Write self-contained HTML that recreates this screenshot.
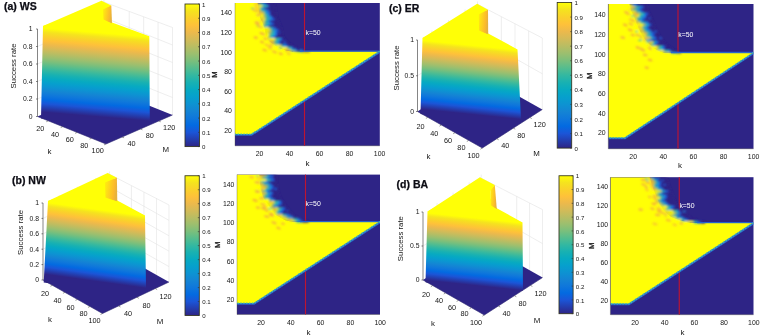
<!DOCTYPE html>
<html><head><meta charset="utf-8"><title>Success rate vs k and M</title>
<style>
html,body{margin:0;padding:0;background:#fff;}
body{width:760px;height:335px;overflow:hidden;}
svg{display:block;font-family:"Liberation Sans",Arial,Helvetica,sans-serif;}
</style></head><body>
<svg width="760" height="335" viewBox="0 0 760 335">
<defs>
<linearGradient id="nwa" x1="0" y1="0" x2="1" y2="0.25"><stop offset="0" stop-color="#fff20c"/><stop offset="0.4" stop-color="#fed51c"/><stop offset="0.8" stop-color="#fbb92c"/><stop offset="1" stop-color="#e6b23e"/></linearGradient>
<linearGradient id="wga" gradientUnits="userSpaceOnUse" x1="49.00" y1="28.50" x2="42.01" y2="112.01"><stop offset="0.0000" stop-color="#ffff06"/><stop offset="0.0500" stop-color="#f5e31e"/><stop offset="0.1000" stop-color="#fad12b"/><stop offset="0.1500" stop-color="#fec13a"/><stop offset="0.2000" stop-color="#ecb94c"/><stop offset="0.2500" stop-color="#d3bb58"/><stop offset="0.3000" stop-color="#b8bd63"/><stop offset="0.3500" stop-color="#9bbf6f"/><stop offset="0.4000" stop-color="#7abf7c"/><stop offset="0.4500" stop-color="#55bd8e"/><stop offset="0.5000" stop-color="#33b8a1"/><stop offset="0.5500" stop-color="#18b1b2"/><stop offset="0.6000" stop-color="#07aac1"/><stop offset="0.6500" stop-color="#06a0cd"/><stop offset="0.7000" stop-color="#0d93d2"/><stop offset="0.7500" stop-color="#1484d4"/><stop offset="0.8000" stop-color="#0f77db"/><stop offset="0.8500" stop-color="#036ae1"/><stop offset="0.9000" stop-color="#1b55d7"/><stop offset="0.9500" stop-color="#243dae"/><stop offset="1.0000" stop-color="#2e2486"/></linearGradient>
<linearGradient id="cba" x1="0" y1="0" x2="0" y2="1"><stop offset="0.0000" stop-color="#ffff06"/><stop offset="0.0500" stop-color="#f5e31e"/><stop offset="0.1000" stop-color="#fad12b"/><stop offset="0.1500" stop-color="#fec13a"/><stop offset="0.2000" stop-color="#ecb94c"/><stop offset="0.2500" stop-color="#d3bb58"/><stop offset="0.3000" stop-color="#b8bd63"/><stop offset="0.3500" stop-color="#9bbf6f"/><stop offset="0.4000" stop-color="#7abf7c"/><stop offset="0.4500" stop-color="#55bd8e"/><stop offset="0.5000" stop-color="#33b8a1"/><stop offset="0.5500" stop-color="#18b1b2"/><stop offset="0.6000" stop-color="#07aac1"/><stop offset="0.6500" stop-color="#06a0cd"/><stop offset="0.7000" stop-color="#0d93d2"/><stop offset="0.7500" stop-color="#1484d4"/><stop offset="0.8000" stop-color="#0f77db"/><stop offset="0.8500" stop-color="#036ae1"/><stop offset="0.9000" stop-color="#1b55d7"/><stop offset="0.9500" stop-color="#243dae"/><stop offset="1.0000" stop-color="#2e2486"/></linearGradient>
<clipPath id="hca"><rect x="235.00" y="3.00" width="144.80" height="142.80"/></clipPath>
<filter id="bla" x="-5%" y="-5%" width="110%" height="110%"><feGaussianBlur stdDeviation="0.8"/></filter>
<linearGradient id="nwc" x1="0" y1="0" x2="1" y2="0.25"><stop offset="0" stop-color="#fff20c"/><stop offset="0.4" stop-color="#fed51c"/><stop offset="0.8" stop-color="#fbb92c"/><stop offset="1" stop-color="#e6b23e"/></linearGradient>
<linearGradient id="wgc" gradientUnits="userSpaceOnUse" x1="429.00" y1="41.00" x2="422.05" y2="109.29"><stop offset="0.0000" stop-color="#ffff06"/><stop offset="0.0500" stop-color="#f5e31e"/><stop offset="0.1000" stop-color="#fad12b"/><stop offset="0.1500" stop-color="#fec13a"/><stop offset="0.2000" stop-color="#ecb94c"/><stop offset="0.2500" stop-color="#d3bb58"/><stop offset="0.3000" stop-color="#b8bd63"/><stop offset="0.3500" stop-color="#9bbf6f"/><stop offset="0.4000" stop-color="#7abf7c"/><stop offset="0.4500" stop-color="#55bd8e"/><stop offset="0.5000" stop-color="#33b8a1"/><stop offset="0.5500" stop-color="#18b1b2"/><stop offset="0.6000" stop-color="#07aac1"/><stop offset="0.6500" stop-color="#06a0cd"/><stop offset="0.7000" stop-color="#0d93d2"/><stop offset="0.7500" stop-color="#1484d4"/><stop offset="0.8000" stop-color="#0f77db"/><stop offset="0.8500" stop-color="#036ae1"/><stop offset="0.9000" stop-color="#1b55d7"/><stop offset="0.9500" stop-color="#243dae"/><stop offset="1.0000" stop-color="#2e2486"/></linearGradient>
<linearGradient id="cbc" x1="0" y1="0" x2="0" y2="1"><stop offset="0.0000" stop-color="#ffff06"/><stop offset="0.0500" stop-color="#f5e31e"/><stop offset="0.1000" stop-color="#fad12b"/><stop offset="0.1500" stop-color="#fec13a"/><stop offset="0.2000" stop-color="#ecb94c"/><stop offset="0.2500" stop-color="#d3bb58"/><stop offset="0.3000" stop-color="#b8bd63"/><stop offset="0.3500" stop-color="#9bbf6f"/><stop offset="0.4000" stop-color="#7abf7c"/><stop offset="0.4500" stop-color="#55bd8e"/><stop offset="0.5000" stop-color="#33b8a1"/><stop offset="0.5500" stop-color="#18b1b2"/><stop offset="0.6000" stop-color="#07aac1"/><stop offset="0.6500" stop-color="#06a0cd"/><stop offset="0.7000" stop-color="#0d93d2"/><stop offset="0.7500" stop-color="#1484d4"/><stop offset="0.8000" stop-color="#0f77db"/><stop offset="0.8500" stop-color="#036ae1"/><stop offset="0.9000" stop-color="#1b55d7"/><stop offset="0.9500" stop-color="#243dae"/><stop offset="1.0000" stop-color="#2e2486"/></linearGradient>
<clipPath id="hcc"><rect x="608.30" y="4.00" width="145.20" height="144.80"/></clipPath>
<filter id="blc" x="-5%" y="-5%" width="110%" height="110%"><feGaussianBlur stdDeviation="0.8"/></filter>
<linearGradient id="nwb" x1="0" y1="0" x2="1" y2="0.25"><stop offset="0" stop-color="#fff20c"/><stop offset="0.4" stop-color="#fed51c"/><stop offset="0.8" stop-color="#fbb92c"/><stop offset="1" stop-color="#e6b23e"/></linearGradient>
<linearGradient id="wgb" gradientUnits="userSpaceOnUse" x1="54.00" y1="203.50" x2="44.29" y2="274.17"><stop offset="0.0000" stop-color="#ffff06"/><stop offset="0.0500" stop-color="#f5e31e"/><stop offset="0.1000" stop-color="#fad12b"/><stop offset="0.1500" stop-color="#fec13a"/><stop offset="0.2000" stop-color="#ecb94c"/><stop offset="0.2500" stop-color="#d3bb58"/><stop offset="0.3000" stop-color="#b8bd63"/><stop offset="0.3500" stop-color="#9bbf6f"/><stop offset="0.4000" stop-color="#7abf7c"/><stop offset="0.4500" stop-color="#55bd8e"/><stop offset="0.5000" stop-color="#33b8a1"/><stop offset="0.5500" stop-color="#18b1b2"/><stop offset="0.6000" stop-color="#07aac1"/><stop offset="0.6500" stop-color="#06a0cd"/><stop offset="0.7000" stop-color="#0d93d2"/><stop offset="0.7500" stop-color="#1484d4"/><stop offset="0.8000" stop-color="#0f77db"/><stop offset="0.8500" stop-color="#036ae1"/><stop offset="0.9000" stop-color="#1b55d7"/><stop offset="0.9500" stop-color="#243dae"/><stop offset="1.0000" stop-color="#2e2486"/></linearGradient>
<linearGradient id="cbb" x1="0" y1="0" x2="0" y2="1"><stop offset="0.0000" stop-color="#ffff06"/><stop offset="0.0500" stop-color="#f5e31e"/><stop offset="0.1000" stop-color="#fad12b"/><stop offset="0.1500" stop-color="#fec13a"/><stop offset="0.2000" stop-color="#ecb94c"/><stop offset="0.2500" stop-color="#d3bb58"/><stop offset="0.3000" stop-color="#b8bd63"/><stop offset="0.3500" stop-color="#9bbf6f"/><stop offset="0.4000" stop-color="#7abf7c"/><stop offset="0.4500" stop-color="#55bd8e"/><stop offset="0.5000" stop-color="#33b8a1"/><stop offset="0.5500" stop-color="#18b1b2"/><stop offset="0.6000" stop-color="#07aac1"/><stop offset="0.6500" stop-color="#06a0cd"/><stop offset="0.7000" stop-color="#0d93d2"/><stop offset="0.7500" stop-color="#1484d4"/><stop offset="0.8000" stop-color="#0f77db"/><stop offset="0.8500" stop-color="#036ae1"/><stop offset="0.9000" stop-color="#1b55d7"/><stop offset="0.9500" stop-color="#243dae"/><stop offset="1.0000" stop-color="#2e2486"/></linearGradient>
<clipPath id="hcb"><rect x="237.00" y="174.60" width="143.00" height="139.90"/></clipPath>
<filter id="blb" x="-5%" y="-5%" width="110%" height="110%"><feGaussianBlur stdDeviation="0.8"/></filter>
<linearGradient id="nwd" x1="0" y1="0" x2="1" y2="0.25"><stop offset="0" stop-color="#fff20c"/><stop offset="0.4" stop-color="#fed51c"/><stop offset="0.8" stop-color="#fbb92c"/><stop offset="1" stop-color="#e6b23e"/></linearGradient>
<linearGradient id="wgd" gradientUnits="userSpaceOnUse" x1="433.00" y1="213.50" x2="425.92" y2="280.25"><stop offset="0.0000" stop-color="#ffff06"/><stop offset="0.0500" stop-color="#f5e31e"/><stop offset="0.1000" stop-color="#fad12b"/><stop offset="0.1500" stop-color="#fec13a"/><stop offset="0.2000" stop-color="#ecb94c"/><stop offset="0.2500" stop-color="#d3bb58"/><stop offset="0.3000" stop-color="#b8bd63"/><stop offset="0.3500" stop-color="#9bbf6f"/><stop offset="0.4000" stop-color="#7abf7c"/><stop offset="0.4500" stop-color="#55bd8e"/><stop offset="0.5000" stop-color="#33b8a1"/><stop offset="0.5500" stop-color="#18b1b2"/><stop offset="0.6000" stop-color="#07aac1"/><stop offset="0.6500" stop-color="#06a0cd"/><stop offset="0.7000" stop-color="#0d93d2"/><stop offset="0.7500" stop-color="#1484d4"/><stop offset="0.8000" stop-color="#0f77db"/><stop offset="0.8500" stop-color="#036ae1"/><stop offset="0.9000" stop-color="#1b55d7"/><stop offset="0.9500" stop-color="#243dae"/><stop offset="1.0000" stop-color="#2e2486"/></linearGradient>
<linearGradient id="cbd" x1="0" y1="0" x2="0" y2="1"><stop offset="0.0000" stop-color="#ffff06"/><stop offset="0.0500" stop-color="#f5e31e"/><stop offset="0.1000" stop-color="#fad12b"/><stop offset="0.1500" stop-color="#fec13a"/><stop offset="0.2000" stop-color="#ecb94c"/><stop offset="0.2500" stop-color="#d3bb58"/><stop offset="0.3000" stop-color="#b8bd63"/><stop offset="0.3500" stop-color="#9bbf6f"/><stop offset="0.4000" stop-color="#7abf7c"/><stop offset="0.4500" stop-color="#55bd8e"/><stop offset="0.5000" stop-color="#33b8a1"/><stop offset="0.5500" stop-color="#18b1b2"/><stop offset="0.6000" stop-color="#07aac1"/><stop offset="0.6500" stop-color="#06a0cd"/><stop offset="0.7000" stop-color="#0d93d2"/><stop offset="0.7500" stop-color="#1484d4"/><stop offset="0.8000" stop-color="#0f77db"/><stop offset="0.8500" stop-color="#036ae1"/><stop offset="0.9000" stop-color="#1b55d7"/><stop offset="0.9500" stop-color="#243dae"/><stop offset="1.0000" stop-color="#2e2486"/></linearGradient>
<clipPath id="hcd"><rect x="610.40" y="177.20" width="143.10" height="137.50"/></clipPath>
<filter id="bld" x="-5%" y="-5%" width="110%" height="110%"><feGaussianBlur stdDeviation="0.8"/></filter>
</defs>
<rect x="0" y="0" width="760" height="335" fill="#ffffff"/>
<g stroke="#e2e2e2" stroke-width="0.6" fill="none">
<path d="M101.40,1.10 L172.50,27.50 L172.50,115.00"/>
<path d="M104.00,0.00 L104.00,87.50"/>
<path d="M37.50,99.00 L104.00,70.00 L172.50,97.50"/>
<path d="M37.50,81.50 L104.00,52.50 L172.50,80.00"/>
<path d="M37.50,64.00 L104.00,35.00 L172.50,62.50"/>
<path d="M37.50,46.50 L104.00,17.50 L172.50,45.00"/>
<path d="M129.24,97.63 L129.24,11.44"/>
<path d="M143.66,103.42 L143.66,16.79"/>
<path d="M158.08,109.21 L158.08,22.15"/>
<path d="M53.55,109.50 L53.55,22.00"/>
<path d="M71.90,101.50 L71.90,14.00"/>
<path d="M90.24,93.50 L90.24,6.00"/>
</g>
<polygon points="37.50,116.50 106.00,144.00 172.50,115.00 104.00,87.50" fill="#2e2486"/>
<polygon points="43.00,26.00 101.40,6.80 112.00,22.60 149.30,36.30 149.80,121.00 69.00,119.00 41.00,118.41" fill="url(#wga)"/>
<polygon points="103.00,7.50 111.30,5.40 112.00,23.60 103.00,20.60" fill="url(#nwa)"/>
<polygon points="43.00,26.00 101.40,0.80 111.30,5.40 103.00,9.50 103.50,19.60 112.00,23.60 149.30,36.90 49.00,28.50" fill="#ffff06"/>
<g stroke="#333" stroke-width="0.6" fill="none">
<path d="M37.50,116.50 L37.50,29.00"/>
<path d="M37.50,116.50 L106.00,144.00 L172.50,115.00" stroke="#2a2470"/>
<path d="M36.00,116.50 L37.50,116.50"/>
<path d="M36.00,99.00 L37.50,99.00"/>
<path d="M36.00,81.50 L37.50,81.50"/>
<path d="M36.00,64.00 L37.50,64.00"/>
<path d="M36.00,46.50 L37.50,46.50"/>
<path d="M36.00,29.00 L37.50,29.00"/>
<path d="M48.32,120.84 L46.30,121.72" stroke="#555"/>
<path d="M62.74,126.63 L60.72,127.51" stroke="#555"/>
<path d="M77.16,132.42 L75.14,133.30" stroke="#555"/>
<path d="M91.58,138.21 L89.56,139.09" stroke="#555"/>
<path d="M106.00,144.00 L103.98,144.88" stroke="#555"/>
<path d="M122.05,137.00 L124.09,137.82" stroke="#555"/>
<path d="M140.40,129.00 L142.44,129.82" stroke="#555"/>
<path d="M158.74,121.00 L160.78,121.82" stroke="#555"/>
</g>
<text x="32.50" y="118.95" font-size="6.8" text-anchor="end" font-weight="normal" fill="#161616">0</text>
<text x="32.50" y="101.45" font-size="6.8" text-anchor="end" font-weight="normal" fill="#161616">0.2</text>
<text x="32.50" y="83.95" font-size="6.8" text-anchor="end" font-weight="normal" fill="#161616">0.4</text>
<text x="32.50" y="66.45" font-size="6.8" text-anchor="end" font-weight="normal" fill="#161616">0.6</text>
<text x="32.50" y="48.95" font-size="6.8" text-anchor="end" font-weight="normal" fill="#161616">0.8</text>
<text x="32.50" y="31.45" font-size="6.8" text-anchor="end" font-weight="normal" fill="#161616">1</text>
<text x="40.30" y="131.03" font-size="7.3" text-anchor="middle" font-weight="normal" fill="#161616">20</text>
<text x="55.10" y="136.83" font-size="7.3" text-anchor="middle" font-weight="normal" fill="#161616">40</text>
<text x="69.80" y="142.43" font-size="7.3" text-anchor="middle" font-weight="normal" fill="#161616">60</text>
<text x="84.30" y="147.83" font-size="7.3" text-anchor="middle" font-weight="normal" fill="#161616">80</text>
<text x="97.70" y="153.43" font-size="7.3" text-anchor="middle" font-weight="normal" fill="#161616">100</text>
<text x="131.50" y="145.93" font-size="7.3" text-anchor="middle" font-weight="normal" fill="#161616">40</text>
<text x="149.70" y="137.53" font-size="7.3" text-anchor="middle" font-weight="normal" fill="#161616">80</text>
<text x="169.20" y="129.93" font-size="7.3" text-anchor="middle" font-weight="normal" fill="#161616">120</text>
<text x="49.60" y="153.93" font-size="7.9" text-anchor="middle" font-weight="normal" fill="#161616">k</text>
<text x="165.80" y="151.93" font-size="7.9" text-anchor="middle" font-weight="normal" fill="#161616">M</text>
<text x="15.60" y="66.00" font-size="7.8" text-anchor="middle" font-weight="normal" fill="#161616" transform="rotate(-90 15.60 66.00)">Success rate</text>
<text x="4.00" y="9.60" font-size="10.5" text-anchor="start" font-weight="bold" fill="#0c0c14" stroke="#0c0c14" stroke-width="0.25">(a) WS</text>
<rect x="185.00" y="4.00" width="14.50" height="142.60" fill="url(#cba)" stroke="#33331c" stroke-width="0.85"/>
<line x1="198.00" y1="4.00" x2="199.50" y2="4.00" stroke="#333" stroke-width="0.6"/>
<text x="202.00" y="6.60" font-size="6.1" text-anchor="start" font-weight="normal" fill="#161616">1</text>
<line x1="198.00" y1="18.26" x2="199.50" y2="18.26" stroke="#333" stroke-width="0.6"/>
<text x="202.00" y="20.86" font-size="6.1" text-anchor="start" font-weight="normal" fill="#161616">0.9</text>
<line x1="198.00" y1="32.52" x2="199.50" y2="32.52" stroke="#333" stroke-width="0.6"/>
<text x="202.00" y="35.12" font-size="6.1" text-anchor="start" font-weight="normal" fill="#161616">0.8</text>
<line x1="198.00" y1="46.78" x2="199.50" y2="46.78" stroke="#333" stroke-width="0.6"/>
<text x="202.00" y="49.38" font-size="6.1" text-anchor="start" font-weight="normal" fill="#161616">0.7</text>
<line x1="198.00" y1="61.04" x2="199.50" y2="61.04" stroke="#333" stroke-width="0.6"/>
<text x="202.00" y="63.64" font-size="6.1" text-anchor="start" font-weight="normal" fill="#161616">0.6</text>
<line x1="198.00" y1="75.30" x2="199.50" y2="75.30" stroke="#333" stroke-width="0.6"/>
<text x="202.00" y="77.90" font-size="6.1" text-anchor="start" font-weight="normal" fill="#161616">0.5</text>
<line x1="198.00" y1="89.56" x2="199.50" y2="89.56" stroke="#333" stroke-width="0.6"/>
<text x="202.00" y="92.16" font-size="6.1" text-anchor="start" font-weight="normal" fill="#161616">0.4</text>
<line x1="198.00" y1="103.82" x2="199.50" y2="103.82" stroke="#333" stroke-width="0.6"/>
<text x="202.00" y="106.42" font-size="6.1" text-anchor="start" font-weight="normal" fill="#161616">0.3</text>
<line x1="198.00" y1="118.08" x2="199.50" y2="118.08" stroke="#333" stroke-width="0.6"/>
<text x="202.00" y="120.68" font-size="6.1" text-anchor="start" font-weight="normal" fill="#161616">0.2</text>
<line x1="198.00" y1="132.34" x2="199.50" y2="132.34" stroke="#333" stroke-width="0.6"/>
<text x="202.00" y="134.94" font-size="6.1" text-anchor="start" font-weight="normal" fill="#161616">0.1</text>
<line x1="198.00" y1="146.60" x2="199.50" y2="146.60" stroke="#333" stroke-width="0.6"/>
<text x="202.00" y="149.20" font-size="6.1" text-anchor="start" font-weight="normal" fill="#161616">0</text>
<rect x="235.00" y="3.00" width="144.80" height="142.80" fill="#2e2486"/>
<line x1="304.50" y1="3.00" x2="304.50" y2="145.80" stroke="#bd1431" stroke-width="1.15"/>
<g clip-path="url(#hca)">
<polygon points="235.00,3.00 257.50,3.00 259.00,12.00 260.20,18.00 263.00,24.00 264.60,28.00 265.80,36.00 268.00,40.00 271.80,43.30 276.00,46.00 280.80,48.50 286.00,50.60 293.00,51.80 293.00,51.50 379.80,51.50 251.50,134.50 235.00,134.50" fill="#ffff06"/>
<g filter="url(#bla)">
<rect x="253.68" y="2.90" width="0.82" height="2.40" fill="#ffff06"/>
<rect x="254.50" y="2.90" width="3.82" height="2.40" fill="#f3bd36"/>
<rect x="258.23" y="2.90" width="1.35" height="2.40" fill="#d4d038"/>
<rect x="259.48" y="2.90" width="1.39" height="2.40" fill="#63c487"/>
<rect x="260.77" y="2.90" width="2.41" height="2.40" fill="#2ab8b8"/>
<rect x="263.08" y="2.90" width="2.29" height="2.40" fill="#1f93e2"/>
<rect x="265.27" y="2.90" width="1.07" height="2.40" fill="#1a62e0"/>
<rect x="266.24" y="2.90" width="0.52" height="2.40" fill="#2b3fb0"/>
<rect x="266.66" y="2.90" width="8.02" height="2.40" fill="#2e2486"/>
<rect x="254.05" y="5.10" width="4.76" height="2.40" fill="#ffff06"/>
<rect x="258.81" y="5.10" width="1.41" height="2.40" fill="#ffff06"/>
<rect x="260.12" y="5.10" width="2.17" height="2.40" fill="#ffff06"/>
<rect x="262.19" y="5.10" width="2.10" height="2.40" fill="#63c487"/>
<rect x="264.19" y="5.10" width="2.93" height="2.40" fill="#2ab8b8"/>
<rect x="267.02" y="5.10" width="0.95" height="2.40" fill="#1f93e2"/>
<rect x="267.88" y="5.10" width="0.94" height="2.40" fill="#1a62e0"/>
<rect x="268.72" y="5.10" width="0.98" height="2.40" fill="#2b3fb0"/>
<rect x="269.60" y="5.10" width="5.45" height="2.40" fill="#2e2486"/>
<rect x="254.42" y="7.30" width="1.79" height="2.40" fill="#ffff06"/>
<rect x="256.21" y="7.30" width="2.61" height="2.40" fill="#ffff06"/>
<rect x="258.72" y="7.30" width="1.29" height="2.40" fill="#ffff06"/>
<rect x="259.91" y="7.30" width="1.46" height="2.40" fill="#63c487"/>
<rect x="261.27" y="7.30" width="1.54" height="2.40" fill="#2ab8b8"/>
<rect x="262.70" y="7.30" width="1.31" height="2.40" fill="#1f93e2"/>
<rect x="263.91" y="7.30" width="1.29" height="2.40" fill="#1a62e0"/>
<rect x="265.10" y="7.30" width="0.90" height="2.40" fill="#2b3fb0"/>
<rect x="265.90" y="7.30" width="9.52" height="2.40" fill="#2e2486"/>
<ellipse cx="252.62" cy="8.50" rx="1.76" ry="0.8" fill="#58c090"/>
<rect x="254.78" y="9.50" width="0.67" height="2.40" fill="#ffff06"/>
<rect x="255.45" y="9.50" width="4.24" height="2.40" fill="#f3bd36"/>
<rect x="259.59" y="9.50" width="1.11" height="2.40" fill="#ffff06"/>
<rect x="260.61" y="9.50" width="1.78" height="2.40" fill="#63c487"/>
<rect x="262.29" y="9.50" width="2.54" height="2.40" fill="#2ab8b8"/>
<rect x="264.72" y="9.50" width="2.55" height="2.40" fill="#1f93e2"/>
<rect x="267.17" y="9.50" width="1.64" height="2.40" fill="#1a62e0"/>
<rect x="268.72" y="9.50" width="1.23" height="2.40" fill="#2b3fb0"/>
<rect x="269.85" y="9.50" width="5.94" height="2.40" fill="#2e2486"/>
<rect x="255.18" y="11.70" width="3.39" height="2.40" fill="#ffff06"/>
<rect x="258.57" y="11.70" width="3.92" height="2.40" fill="#f3bd36"/>
<rect x="262.39" y="11.70" width="1.79" height="2.40" fill="#d4d038"/>
<rect x="264.08" y="11.70" width="0.80" height="2.40" fill="#63c487"/>
<rect x="264.78" y="11.70" width="1.56" height="2.40" fill="#2ab8b8"/>
<rect x="266.24" y="11.70" width="2.30" height="2.40" fill="#1f93e2"/>
<rect x="268.44" y="11.70" width="1.63" height="2.40" fill="#1a62e0"/>
<rect x="269.97" y="11.70" width="0.65" height="2.40" fill="#2b3fb0"/>
<rect x="270.52" y="11.70" width="5.66" height="2.40" fill="#2e2486"/>
<rect x="255.62" y="13.90" width="4.86" height="2.40" fill="#ffff06"/>
<rect x="260.48" y="13.90" width="2.47" height="2.40" fill="#ffff06"/>
<rect x="262.85" y="13.90" width="1.79" height="2.40" fill="#d4d038"/>
<rect x="264.55" y="13.90" width="1.49" height="2.40" fill="#63c487"/>
<rect x="265.94" y="13.90" width="1.87" height="2.40" fill="#2ab8b8"/>
<rect x="267.72" y="13.90" width="1.76" height="2.40" fill="#1f93e2"/>
<rect x="269.38" y="13.90" width="0.95" height="2.40" fill="#1a62e0"/>
<rect x="270.23" y="13.90" width="0.54" height="2.40" fill="#2b3fb0"/>
<rect x="270.67" y="13.90" width="5.95" height="2.40" fill="#2e2486"/>
<rect x="256.06" y="16.10" width="4.69" height="2.40" fill="#ffff06"/>
<rect x="260.75" y="16.10" width="2.53" height="2.40" fill="#ffff06"/>
<rect x="263.17" y="16.10" width="1.78" height="2.40" fill="#d4d038"/>
<rect x="264.86" y="16.10" width="1.85" height="2.40" fill="#63c487"/>
<rect x="266.61" y="16.10" width="2.18" height="2.40" fill="#2ab8b8"/>
<rect x="268.69" y="16.10" width="2.41" height="2.40" fill="#1f93e2"/>
<rect x="271.00" y="16.10" width="1.31" height="2.40" fill="#1a62e0"/>
<rect x="272.21" y="16.10" width="0.95" height="2.40" fill="#2b3fb0"/>
<rect x="273.06" y="16.10" width="4.00" height="2.40" fill="#2e2486"/>
<rect x="256.90" y="18.30" width="3.62" height="2.40" fill="#ffff06"/>
<rect x="260.52" y="18.30" width="2.17" height="2.40" fill="#f3bd36"/>
<rect x="262.59" y="18.30" width="2.58" height="2.40" fill="#ffff06"/>
<rect x="265.07" y="18.30" width="1.87" height="2.40" fill="#63c487"/>
<rect x="266.84" y="18.30" width="2.76" height="2.40" fill="#2ab8b8"/>
<rect x="269.51" y="18.30" width="2.46" height="2.40" fill="#1f93e2"/>
<rect x="271.87" y="18.30" width="2.20" height="2.40" fill="#1a62e0"/>
<rect x="273.97" y="18.30" width="1.21" height="2.40" fill="#2b3fb0"/>
<rect x="275.08" y="18.30" width="2.82" height="2.40" fill="#2e2486"/>
<rect x="257.93" y="20.50" width="3.04" height="2.40" fill="#ffff06"/>
<rect x="260.97" y="20.50" width="1.56" height="2.40" fill="#f3bd36"/>
<rect x="262.43" y="20.50" width="1.90" height="2.40" fill="#ffff06"/>
<rect x="264.23" y="20.50" width="1.47" height="2.40" fill="#63c487"/>
<rect x="265.61" y="20.50" width="2.06" height="2.40" fill="#2ab8b8"/>
<rect x="267.57" y="20.50" width="1.53" height="2.40" fill="#1f93e2"/>
<rect x="269.00" y="20.50" width="1.51" height="2.40" fill="#1a62e0"/>
<rect x="270.41" y="20.50" width="0.97" height="2.40" fill="#2b3fb0"/>
<rect x="271.28" y="20.50" width="7.65" height="2.40" fill="#2e2486"/>
<rect x="258.95" y="22.70" width="3.11" height="2.40" fill="#ffff06"/>
<rect x="262.07" y="22.70" width="1.48" height="2.40" fill="#ffff06"/>
<rect x="263.45" y="22.70" width="1.21" height="2.40" fill="#d4d038"/>
<rect x="264.56" y="22.70" width="1.98" height="2.40" fill="#63c487"/>
<rect x="266.44" y="22.70" width="2.72" height="2.40" fill="#2ab8b8"/>
<rect x="269.06" y="22.70" width="2.30" height="2.40" fill="#1f93e2"/>
<rect x="271.26" y="22.70" width="2.34" height="2.40" fill="#1a62e0"/>
<rect x="273.50" y="22.70" width="0.72" height="2.40" fill="#2b3fb0"/>
<rect x="274.12" y="22.70" width="5.83" height="2.40" fill="#2e2486"/>
<rect x="259.84" y="24.90" width="0.29" height="2.40" fill="#ffff06"/>
<rect x="260.13" y="24.90" width="1.45" height="2.40" fill="#ffff06"/>
<rect x="261.47" y="24.90" width="2.23" height="2.40" fill="#ffff06"/>
<rect x="263.60" y="24.90" width="0.91" height="2.40" fill="#63c487"/>
<rect x="264.41" y="24.90" width="2.36" height="2.40" fill="#2ab8b8"/>
<rect x="266.67" y="24.90" width="1.51" height="2.40" fill="#1f93e2"/>
<rect x="268.07" y="24.90" width="1.02" height="2.40" fill="#1a62e0"/>
<rect x="269.00" y="24.90" width="0.64" height="2.40" fill="#2b3fb0"/>
<rect x="269.54" y="24.90" width="11.30" height="2.40" fill="#2e2486"/>
<ellipse cx="257.94" cy="26.10" rx="1.91" ry="0.8" fill="#a8cc58"/>
<rect x="260.65" y="27.10" width="4.15" height="2.40" fill="#ffff06"/>
<rect x="264.79" y="27.10" width="2.82" height="2.40" fill="#ffff06"/>
<rect x="267.51" y="27.10" width="1.45" height="2.40" fill="#ffff06"/>
<rect x="268.86" y="27.10" width="1.89" height="2.40" fill="#63c487"/>
<rect x="270.65" y="27.10" width="1.59" height="2.40" fill="#2ab8b8"/>
<rect x="272.14" y="27.10" width="1.35" height="2.40" fill="#1f93e2"/>
<rect x="273.38" y="27.10" width="2.19" height="2.40" fill="#1a62e0"/>
<rect x="275.47" y="27.10" width="1.36" height="2.40" fill="#2b3fb0"/>
<rect x="276.73" y="27.10" width="4.92" height="2.40" fill="#2e2486"/>
<rect x="260.98" y="29.30" width="7.38" height="2.40" fill="#ffff06"/>
<rect x="268.35" y="29.30" width="2.04" height="2.40" fill="#ffff06"/>
<rect x="270.30" y="29.30" width="0.96" height="2.40" fill="#d4d038"/>
<rect x="271.16" y="29.30" width="1.39" height="2.40" fill="#63c487"/>
<rect x="272.45" y="29.30" width="2.11" height="2.40" fill="#2ab8b8"/>
<rect x="274.46" y="29.30" width="1.65" height="2.40" fill="#1f93e2"/>
<rect x="276.01" y="29.30" width="2.36" height="2.40" fill="#1a62e0"/>
<rect x="278.27" y="29.30" width="1.36" height="2.40" fill="#2b3fb0"/>
<rect x="279.53" y="29.30" width="2.44" height="2.40" fill="#2e2486"/>
<rect x="261.31" y="31.50" width="4.36" height="2.40" fill="#ffff06"/>
<rect x="265.66" y="31.50" width="2.90" height="2.40" fill="#ffff06"/>
<rect x="268.46" y="31.50" width="2.09" height="2.40" fill="#d4d038"/>
<rect x="270.45" y="31.50" width="1.69" height="2.40" fill="#63c487"/>
<rect x="272.04" y="31.50" width="1.94" height="2.40" fill="#2ab8b8"/>
<rect x="273.89" y="31.50" width="2.20" height="2.40" fill="#1f93e2"/>
<rect x="275.98" y="31.50" width="1.12" height="2.40" fill="#1a62e0"/>
<rect x="277.00" y="31.50" width="0.69" height="2.40" fill="#2b3fb0"/>
<rect x="277.59" y="31.50" width="4.71" height="2.40" fill="#2e2486"/>
<ellipse cx="279.27" cy="32.70" rx="1.28" ry="0.8" fill="#2450c8"/>
<rect x="261.63" y="33.70" width="3.19" height="2.40" fill="#ffff06"/>
<rect x="264.83" y="33.70" width="2.12" height="2.40" fill="#ffff06"/>
<rect x="266.85" y="33.70" width="2.45" height="2.40" fill="#ffff06"/>
<rect x="269.19" y="33.70" width="1.92" height="2.40" fill="#63c487"/>
<rect x="271.02" y="33.70" width="3.06" height="2.40" fill="#2ab8b8"/>
<rect x="273.98" y="33.70" width="1.90" height="2.40" fill="#1f93e2"/>
<rect x="275.78" y="33.70" width="1.20" height="2.40" fill="#1a62e0"/>
<rect x="276.88" y="33.70" width="1.26" height="2.40" fill="#2b3fb0"/>
<rect x="278.05" y="33.70" width="4.59" height="2.40" fill="#2e2486"/>
<rect x="262.41" y="35.90" width="3.54" height="2.40" fill="#ffff06"/>
<rect x="265.95" y="35.90" width="2.48" height="2.40" fill="#ffff06"/>
<rect x="268.33" y="35.90" width="1.26" height="2.40" fill="#d4d038"/>
<rect x="269.49" y="35.90" width="1.37" height="2.40" fill="#63c487"/>
<rect x="270.76" y="35.90" width="1.46" height="2.40" fill="#2ab8b8"/>
<rect x="272.12" y="35.90" width="1.08" height="2.40" fill="#1f93e2"/>
<rect x="273.10" y="35.90" width="2.07" height="2.40" fill="#1a62e0"/>
<rect x="275.07" y="35.90" width="0.76" height="2.40" fill="#2b3fb0"/>
<rect x="275.73" y="35.90" width="7.67" height="2.40" fill="#2e2486"/>
<rect x="263.62" y="38.10" width="6.41" height="2.40" fill="#ffff06"/>
<rect x="270.02" y="38.10" width="3.97" height="2.40" fill="#ffff06"/>
<rect x="273.90" y="38.10" width="1.25" height="2.40" fill="#ffff06"/>
<rect x="275.05" y="38.10" width="2.16" height="2.40" fill="#63c487"/>
<rect x="277.11" y="38.10" width="2.69" height="2.40" fill="#2ab8b8"/>
<rect x="279.70" y="38.10" width="1.50" height="2.40" fill="#1f93e2"/>
<rect x="281.09" y="38.10" width="1.27" height="2.40" fill="#1a62e0"/>
<rect x="282.27" y="38.10" width="1.09" height="2.40" fill="#2b3fb0"/>
<rect x="283.26" y="38.10" width="1.35" height="2.40" fill="#2e2486"/>
<rect x="265.73" y="40.30" width="3.26" height="2.40" fill="#ffff06"/>
<rect x="268.98" y="40.30" width="3.92" height="2.40" fill="#f3bd36"/>
<rect x="272.81" y="40.30" width="1.75" height="2.40" fill="#d4d038"/>
<rect x="274.46" y="40.30" width="1.09" height="2.40" fill="#63c487"/>
<rect x="275.44" y="40.30" width="2.57" height="2.40" fill="#2ab8b8"/>
<rect x="277.91" y="40.30" width="1.05" height="2.40" fill="#1f93e2"/>
<rect x="278.86" y="40.30" width="1.20" height="2.40" fill="#1a62e0"/>
<rect x="279.96" y="40.30" width="1.30" height="2.40" fill="#2b3fb0"/>
<rect x="281.16" y="40.30" width="5.57" height="2.40" fill="#2e2486"/>
<ellipse cx="284.56" cy="41.50" rx="1.80" ry="0.8" fill="#2450c8"/>
<rect x="268.42" y="42.50" width="2.28" height="2.40" fill="#ffff06"/>
<rect x="270.71" y="42.50" width="2.23" height="2.40" fill="#f3bd36"/>
<rect x="272.84" y="42.50" width="1.96" height="2.40" fill="#d4d038"/>
<rect x="274.70" y="42.50" width="2.02" height="2.40" fill="#63c487"/>
<rect x="276.62" y="42.50" width="1.33" height="2.40" fill="#2ab8b8"/>
<rect x="277.85" y="42.50" width="1.87" height="2.40" fill="#1f93e2"/>
<rect x="279.62" y="42.50" width="1.08" height="2.40" fill="#1a62e0"/>
<rect x="280.61" y="42.50" width="0.53" height="2.40" fill="#2b3fb0"/>
<rect x="281.04" y="42.50" width="8.38" height="2.40" fill="#2e2486"/>
<ellipse cx="284.71" cy="43.70" rx="1.99" ry="0.8" fill="#1a62e0"/>
<rect x="271.84" y="44.70" width="4.08" height="2.40" fill="#ffff06"/>
<rect x="275.92" y="44.70" width="3.64" height="2.40" fill="#ffff06"/>
<rect x="279.46" y="44.70" width="1.90" height="2.40" fill="#ffff06"/>
<rect x="281.27" y="44.70" width="0.87" height="2.40" fill="#63c487"/>
<rect x="282.03" y="44.70" width="1.61" height="2.40" fill="#2ab8b8"/>
<rect x="283.54" y="44.70" width="2.47" height="2.40" fill="#1f93e2"/>
<rect x="285.91" y="44.70" width="1.89" height="2.40" fill="#1a62e0"/>
<rect x="287.70" y="44.70" width="1.31" height="2.40" fill="#2b3fb0"/>
<rect x="288.92" y="44.70" width="3.93" height="2.40" fill="#2e2486"/>
<rect x="276.03" y="46.90" width="5.93" height="2.40" fill="#ffff06"/>
<rect x="281.96" y="46.90" width="3.77" height="2.40" fill="#ffff06"/>
<rect x="285.62" y="46.90" width="2.08" height="2.40" fill="#ffff06"/>
<rect x="287.60" y="46.90" width="0.91" height="2.40" fill="#63c487"/>
<rect x="288.42" y="46.90" width="2.90" height="2.40" fill="#2ab8b8"/>
<rect x="291.22" y="46.90" width="0.97" height="2.40" fill="#1f93e2"/>
<rect x="292.09" y="46.90" width="1.32" height="2.40" fill="#1a62e0"/>
<rect x="293.31" y="46.90" width="1.37" height="2.40" fill="#2b3fb0"/>
<rect x="294.58" y="46.90" width="2.45" height="2.40" fill="#2e2486"/>
<ellipse cx="280.04" cy="48.10" rx="1.44" ry="0.8" fill="#58c090"/>
<rect x="281.26" y="49.10" width="3.80" height="2.40" fill="#ffff06"/>
<rect x="285.06" y="49.10" width="4.16" height="2.40" fill="#f3bd36"/>
<rect x="289.12" y="49.10" width="1.86" height="2.40" fill="#d4d038"/>
<rect x="290.88" y="49.10" width="1.54" height="2.40" fill="#63c487"/>
<rect x="292.31" y="49.10" width="2.54" height="2.40" fill="#2ab8b8"/>
<rect x="294.75" y="49.10" width="1.45" height="2.40" fill="#1f93e2"/>
<rect x="296.10" y="49.10" width="1.27" height="2.40" fill="#1a62e0"/>
<rect x="297.27" y="49.10" width="0.78" height="2.40" fill="#2b3fb0"/>
<rect x="297.95" y="49.10" width="4.31" height="2.40" fill="#2e2486"/>
<ellipse cx="301.42" cy="50.30" rx="2.13" ry="0.8" fill="#1f86e0"/>
<rect x="288.71" y="51.30" width="3.28" height="0.90" fill="#ffff06"/>
<rect x="291.99" y="51.30" width="2.30" height="0.90" fill="#ffff06"/>
<rect x="294.18" y="51.30" width="2.51" height="0.90" fill="#d4d038"/>
<rect x="296.59" y="51.30" width="2.14" height="0.90" fill="#63c487"/>
<rect x="298.63" y="51.30" width="1.28" height="0.90" fill="#2ab8b8"/>
<rect x="299.81" y="51.30" width="1.28" height="0.90" fill="#1f93e2"/>
<rect x="300.99" y="51.30" width="1.99" height="0.90" fill="#1a62e0"/>
<rect x="302.88" y="51.30" width="1.36" height="0.90" fill="#2b3fb0"/>
<rect x="304.14" y="51.30" width="5.57" height="0.90" fill="#2e2486"/>
<ellipse cx="265.50" cy="38.76" rx="2.17" ry="1.00" fill="#f4a93c" transform="rotate(14 265.50 38.76)"/>
<ellipse cx="257.19" cy="23.84" rx="2.98" ry="1.00" fill="#f6b43a" transform="rotate(26 257.19 23.84)"/>
<ellipse cx="254.73" cy="10.48" rx="2.93" ry="1.00" fill="#f8c230" transform="rotate(26 254.73 10.48)"/>
<ellipse cx="288.72" cy="53.85" rx="2.10" ry="1.00" fill="#f8c230" transform="rotate(8 288.72 53.85)"/>
<ellipse cx="261.29" cy="32.94" rx="2.09" ry="1.00" fill="#f6b43a" transform="rotate(8 261.29 32.94)"/>
<ellipse cx="269.99" cy="46.01" rx="2.68" ry="1.00" fill="#f6b43a" transform="rotate(8 269.99 46.01)"/>
<ellipse cx="256.60" cy="7.20" rx="2.26" ry="1.05" fill="#f6b43a" transform="rotate(16 256.60 7.20)"/>
<ellipse cx="258.40" cy="15.20" rx="2.42" ry="1.05" fill="#f2b040" transform="rotate(10 258.40 15.20)"/>
<ellipse cx="257.50" cy="22.40" rx="2.45" ry="1.05" fill="#f6b43a" transform="rotate(16 257.50 22.40)"/>
<ellipse cx="260.20" cy="26.90" rx="2.46" ry="1.05" fill="#f6b43a" transform="rotate(22 260.20 26.90)"/>
<ellipse cx="255.70" cy="37.60" rx="2.16" ry="1.05" fill="#f4a93c" transform="rotate(10 255.70 37.60)"/>
<ellipse cx="262.90" cy="34.00" rx="2.74" ry="1.05" fill="#f4a93c" transform="rotate(16 262.90 34.00)"/>
<ellipse cx="266.50" cy="44.80" rx="2.10" ry="1.05" fill="#f8c230" transform="rotate(22 266.50 44.80)"/>
<ellipse cx="270.00" cy="48.30" rx="2.11" ry="1.05" fill="#f8c230" transform="rotate(10 270.00 48.30)"/>
<ellipse cx="264.70" cy="50.10" rx="2.49" ry="1.05" fill="#f4a93c" transform="rotate(22 264.70 50.10)"/>
<ellipse cx="274.50" cy="51.90" rx="2.70" ry="1.05" fill="#f6b43a" transform="rotate(22 274.50 51.90)"/>
<ellipse cx="280.80" cy="53.70" rx="2.16" ry="1.05" fill="#f4a93c" transform="rotate(16 280.80 53.70)"/>
<ellipse cx="262.00" cy="42.00" rx="2.04" ry="1.05" fill="#f4a93c" transform="rotate(22 262.00 42.00)"/>
</g>
<path d="M300.00,51.20 L379.80,51.20" fill="none" stroke="#2468d8" stroke-width="1.3" opacity="0.9"/>
<path d="M379.80,51.90 L251.50,134.90 L235.00,134.90" fill="none" stroke="#2a6fd6" stroke-width="1.9" opacity="0.9"/>
<path d="M379.80,51.30 L251.50,134.30 L235.00,134.30" fill="none" stroke="#3cc0b0" stroke-width="1.5" stroke-dasharray="1.4 1.5" opacity="0.95"/>
</g>
<path d="M235.00,3.00 L235.00,145.80 L379.80,145.80" fill="none" stroke="#4a4a3a" stroke-width="0.5" opacity="0.7"/>
<text x="231.90" y="15.48" font-size="6.9" text-anchor="end" font-weight="normal" fill="#161616">140</text>
<text x="231.90" y="35.08" font-size="6.9" text-anchor="end" font-weight="normal" fill="#161616">120</text>
<text x="231.90" y="54.68" font-size="6.9" text-anchor="end" font-weight="normal" fill="#161616">100</text>
<text x="231.90" y="74.28" font-size="6.9" text-anchor="end" font-weight="normal" fill="#161616">80</text>
<text x="231.90" y="93.88" font-size="6.9" text-anchor="end" font-weight="normal" fill="#161616">60</text>
<text x="231.90" y="113.48" font-size="6.9" text-anchor="end" font-weight="normal" fill="#161616">40</text>
<text x="231.90" y="133.08" font-size="6.9" text-anchor="end" font-weight="normal" fill="#161616">20</text>
<text x="259.60" y="155.90" font-size="6.9" text-anchor="middle" font-weight="normal" fill="#161616">20</text>
<text x="289.60" y="155.90" font-size="6.9" text-anchor="middle" font-weight="normal" fill="#161616">40</text>
<text x="319.60" y="155.90" font-size="6.9" text-anchor="middle" font-weight="normal" fill="#161616">60</text>
<text x="349.60" y="155.90" font-size="6.9" text-anchor="middle" font-weight="normal" fill="#161616">80</text>
<text x="379.60" y="155.90" font-size="6.9" text-anchor="middle" font-weight="normal" fill="#161616">100</text>
<text x="305.50" y="35.00" font-size="6.9" text-anchor="start" font-weight="normal" fill="#ffffff">k=50</text>
<text x="217.00" y="74.60" font-size="7.6" text-anchor="middle" font-weight="normal" fill="#161616" transform="rotate(-90 217.00 74.60)" stroke="#161616" stroke-width="0.3">M</text>
<text x="307.60" y="166.00" font-size="8" text-anchor="middle" font-weight="normal" fill="#161616">k</text>
<g stroke="#e2e2e2" stroke-width="0.6" fill="none">
<path d="M477.20,4.10 L542.30,38.00 L542.30,109.50"/>
<path d="M477.50,1.50 L477.50,73.00"/>
<path d="M417.50,75.75 L477.50,37.25 L542.30,73.75"/>
<path d="M501.37,86.45 L501.37,16.69"/>
<path d="M515.02,94.13 L515.02,23.79"/>
<path d="M528.66,101.82 L528.66,30.90"/>
<path d="M431.98,102.21 L431.98,30.71"/>
<path d="M448.53,91.59 L448.53,20.09"/>
<path d="M465.09,80.97 L465.09,9.47"/>
</g>
<polygon points="417.50,111.50 482.30,148.00 542.30,109.50 477.50,73.00" fill="#2e2486"/>
<polygon points="422.50,38.00 477.20,9.80 488.20,33.40 517.50,49.40 521.00,119.00 449.00,118.00 420.50,114.02" fill="url(#wgc)"/>
<polygon points="478.60,12.50 488.00,9.70 488.20,34.40 478.60,31.40" fill="url(#nwc)"/>
<polygon points="422.50,38.00 477.20,3.80 488.00,9.70 478.60,14.50 479.10,30.40 488.20,34.40 517.50,50.00 429.00,41.00" fill="#ffff06"/>
<g stroke="#333" stroke-width="0.6" fill="none">
<path d="M417.50,111.50 L417.50,40.00"/>
<path d="M417.50,111.50 L482.30,148.00 L542.30,109.50" stroke="#2a2470"/>
<path d="M416.00,111.50 L417.50,111.50"/>
<path d="M416.00,75.75 L417.50,75.75"/>
<path d="M416.00,40.00 L417.50,40.00"/>
<path d="M427.73,117.26 L425.88,118.45" stroke="#555"/>
<path d="M441.37,124.95 L439.52,126.14" stroke="#555"/>
<path d="M455.02,132.63 L453.16,133.82" stroke="#555"/>
<path d="M468.66,140.32 L466.81,141.50" stroke="#555"/>
<path d="M482.30,148.00 L480.45,149.19" stroke="#555"/>
<path d="M496.78,138.71 L498.70,139.79" stroke="#555"/>
<path d="M513.33,128.09 L515.25,129.17" stroke="#555"/>
<path d="M529.89,117.47 L531.80,118.55" stroke="#555"/>
</g>
<text x="414.00" y="113.95" font-size="6.8" text-anchor="end" font-weight="normal" fill="#161616">0</text>
<text x="414.00" y="78.20" font-size="6.8" text-anchor="end" font-weight="normal" fill="#161616">0.5</text>
<text x="414.00" y="42.45" font-size="6.8" text-anchor="end" font-weight="normal" fill="#161616">1</text>
<text x="420.60" y="128.63" font-size="7.3" text-anchor="middle" font-weight="normal" fill="#161616">20</text>
<text x="434.20" y="135.63" font-size="7.3" text-anchor="middle" font-weight="normal" fill="#161616">40</text>
<text x="448.00" y="143.13" font-size="7.3" text-anchor="middle" font-weight="normal" fill="#161616">60</text>
<text x="461.40" y="150.23" font-size="7.3" text-anchor="middle" font-weight="normal" fill="#161616">80</text>
<text x="473.50" y="157.63" font-size="7.3" text-anchor="middle" font-weight="normal" fill="#161616">100</text>
<text x="505.30" y="147.73" font-size="7.3" text-anchor="middle" font-weight="normal" fill="#161616">40</text>
<text x="521.30" y="137.53" font-size="7.3" text-anchor="middle" font-weight="normal" fill="#161616">80</text>
<text x="539.70" y="127.03" font-size="7.3" text-anchor="middle" font-weight="normal" fill="#161616">120</text>
<text x="428.60" y="159.43" font-size="7.9" text-anchor="middle" font-weight="normal" fill="#161616">k</text>
<text x="536.60" y="156.33" font-size="7.9" text-anchor="middle" font-weight="normal" fill="#161616">M</text>
<text x="398.50" y="68.00" font-size="7.8" text-anchor="middle" font-weight="normal" fill="#161616" transform="rotate(-90 398.50 68.00)">Success rate</text>
<text x="389.00" y="11.90" font-size="10.5" text-anchor="start" font-weight="bold" fill="#0c0c14" stroke="#0c0c14" stroke-width="0.25">(c) ER</text>
<rect x="557.20" y="2.50" width="14.50" height="145.60" fill="url(#cbc)" stroke="#33331c" stroke-width="0.85"/>
<line x1="570.20" y1="2.50" x2="571.70" y2="2.50" stroke="#333" stroke-width="0.6"/>
<text x="574.40" y="5.10" font-size="6.1" text-anchor="start" font-weight="normal" fill="#161616">1</text>
<line x1="570.20" y1="17.06" x2="571.70" y2="17.06" stroke="#333" stroke-width="0.6"/>
<text x="574.40" y="19.66" font-size="6.1" text-anchor="start" font-weight="normal" fill="#161616">0.9</text>
<line x1="570.20" y1="31.62" x2="571.70" y2="31.62" stroke="#333" stroke-width="0.6"/>
<text x="574.40" y="34.22" font-size="6.1" text-anchor="start" font-weight="normal" fill="#161616">0.8</text>
<line x1="570.20" y1="46.18" x2="571.70" y2="46.18" stroke="#333" stroke-width="0.6"/>
<text x="574.40" y="48.78" font-size="6.1" text-anchor="start" font-weight="normal" fill="#161616">0.7</text>
<line x1="570.20" y1="60.74" x2="571.70" y2="60.74" stroke="#333" stroke-width="0.6"/>
<text x="574.40" y="63.34" font-size="6.1" text-anchor="start" font-weight="normal" fill="#161616">0.6</text>
<line x1="570.20" y1="75.30" x2="571.70" y2="75.30" stroke="#333" stroke-width="0.6"/>
<text x="574.40" y="77.90" font-size="6.1" text-anchor="start" font-weight="normal" fill="#161616">0.5</text>
<line x1="570.20" y1="89.86" x2="571.70" y2="89.86" stroke="#333" stroke-width="0.6"/>
<text x="574.40" y="92.46" font-size="6.1" text-anchor="start" font-weight="normal" fill="#161616">0.4</text>
<line x1="570.20" y1="104.42" x2="571.70" y2="104.42" stroke="#333" stroke-width="0.6"/>
<text x="574.40" y="107.02" font-size="6.1" text-anchor="start" font-weight="normal" fill="#161616">0.3</text>
<line x1="570.20" y1="118.98" x2="571.70" y2="118.98" stroke="#333" stroke-width="0.6"/>
<text x="574.40" y="121.58" font-size="6.1" text-anchor="start" font-weight="normal" fill="#161616">0.2</text>
<line x1="570.20" y1="133.54" x2="571.70" y2="133.54" stroke="#333" stroke-width="0.6"/>
<text x="574.40" y="136.14" font-size="6.1" text-anchor="start" font-weight="normal" fill="#161616">0.1</text>
<line x1="570.20" y1="148.10" x2="571.70" y2="148.10" stroke="#333" stroke-width="0.6"/>
<text x="574.40" y="150.70" font-size="6.1" text-anchor="start" font-weight="normal" fill="#161616">0</text>
<rect x="608.30" y="4.00" width="145.20" height="144.80" fill="#2e2486"/>
<line x1="678.00" y1="4.00" x2="678.00" y2="148.80" stroke="#bd1431" stroke-width="1.15"/>
<g clip-path="url(#hcc)">
<polygon points="608.30,4.00 629.50,4.00 631.00,11.00 634.50,18.00 638.00,27.00 642.50,36.00 648.00,43.00 654.00,48.30 659.00,51.00 664.00,52.80 664.00,52.80 753.50,52.80 625.00,138.00 608.30,138.00" fill="#ffff06"/>
<g filter="url(#blc)">
<rect x="625.74" y="3.90" width="1.61" height="2.40" fill="#ffff06"/>
<rect x="627.34" y="3.90" width="2.96" height="2.40" fill="#ffff06"/>
<rect x="630.20" y="3.90" width="1.96" height="2.40" fill="#d4d038"/>
<rect x="632.06" y="3.90" width="0.84" height="2.40" fill="#63c487"/>
<rect x="632.81" y="3.90" width="1.08" height="2.40" fill="#2ab8b8"/>
<rect x="633.78" y="3.90" width="2.37" height="2.40" fill="#1f93e2"/>
<rect x="636.06" y="3.90" width="1.36" height="2.40" fill="#1a62e0"/>
<rect x="637.32" y="3.90" width="0.71" height="2.40" fill="#2b3fb0"/>
<rect x="637.92" y="3.90" width="8.81" height="2.40" fill="#2e2486"/>
<rect x="626.21" y="6.10" width="5.56" height="2.40" fill="#ffff06"/>
<rect x="631.77" y="6.10" width="2.76" height="2.40" fill="#f3bd36"/>
<rect x="634.43" y="6.10" width="1.17" height="2.40" fill="#d4d038"/>
<rect x="635.49" y="6.10" width="1.99" height="2.40" fill="#63c487"/>
<rect x="637.39" y="6.10" width="2.14" height="2.40" fill="#2ab8b8"/>
<rect x="639.43" y="6.10" width="2.20" height="2.40" fill="#1f93e2"/>
<rect x="641.53" y="6.10" width="2.08" height="2.40" fill="#1a62e0"/>
<rect x="643.52" y="6.10" width="0.56" height="2.40" fill="#2b3fb0"/>
<rect x="643.97" y="6.10" width="3.24" height="2.40" fill="#2e2486"/>
<rect x="626.68" y="8.30" width="2.68" height="2.40" fill="#ffff06"/>
<rect x="629.36" y="8.30" width="1.49" height="2.40" fill="#f3bd36"/>
<rect x="630.74" y="8.30" width="1.73" height="2.40" fill="#d4d038"/>
<rect x="632.38" y="8.30" width="2.01" height="2.40" fill="#63c487"/>
<rect x="634.28" y="8.30" width="2.54" height="2.40" fill="#2ab8b8"/>
<rect x="636.73" y="8.30" width="2.52" height="2.40" fill="#1f93e2"/>
<rect x="639.15" y="8.30" width="1.60" height="2.40" fill="#1a62e0"/>
<rect x="640.64" y="8.30" width="1.20" height="2.40" fill="#2b3fb0"/>
<rect x="641.75" y="8.30" width="5.93" height="2.40" fill="#2e2486"/>
<rect x="627.35" y="10.50" width="6.20" height="2.40" fill="#ffff06"/>
<rect x="633.55" y="10.50" width="1.68" height="2.40" fill="#ffff06"/>
<rect x="635.13" y="10.50" width="1.28" height="2.40" fill="#d4d038"/>
<rect x="636.31" y="10.50" width="1.37" height="2.40" fill="#63c487"/>
<rect x="637.59" y="10.50" width="2.36" height="2.40" fill="#2ab8b8"/>
<rect x="639.85" y="10.50" width="1.43" height="2.40" fill="#1f93e2"/>
<rect x="641.18" y="10.50" width="1.79" height="2.40" fill="#1a62e0"/>
<rect x="642.87" y="10.50" width="0.84" height="2.40" fill="#2b3fb0"/>
<rect x="643.61" y="10.50" width="4.74" height="2.40" fill="#2e2486"/>
<rect x="628.45" y="12.70" width="5.02" height="2.40" fill="#ffff06"/>
<rect x="633.47" y="12.70" width="3.99" height="2.40" fill="#f3bd36"/>
<rect x="637.36" y="12.70" width="2.53" height="2.40" fill="#d4d038"/>
<rect x="639.79" y="12.70" width="2.17" height="2.40" fill="#63c487"/>
<rect x="641.86" y="12.70" width="2.45" height="2.40" fill="#2ab8b8"/>
<rect x="644.21" y="12.70" width="1.19" height="2.40" fill="#1f93e2"/>
<rect x="645.30" y="12.70" width="2.41" height="2.40" fill="#1a62e0"/>
<rect x="647.61" y="12.70" width="1.35" height="2.40" fill="#2b3fb0"/>
<rect x="648.86" y="12.70" width="0.59" height="2.40" fill="#2e2486"/>
<rect x="629.55" y="14.90" width="5.65" height="2.40" fill="#ffff06"/>
<rect x="635.20" y="14.90" width="2.00" height="2.40" fill="#f3bd36"/>
<rect x="637.11" y="14.90" width="1.91" height="2.40" fill="#ffff06"/>
<rect x="638.91" y="14.90" width="0.84" height="2.40" fill="#63c487"/>
<rect x="639.66" y="14.90" width="2.83" height="2.40" fill="#2ab8b8"/>
<rect x="642.39" y="14.90" width="2.64" height="2.40" fill="#1f93e2"/>
<rect x="644.93" y="14.90" width="1.06" height="2.40" fill="#1a62e0"/>
<rect x="645.89" y="14.90" width="1.20" height="2.40" fill="#2b3fb0"/>
<rect x="646.99" y="14.90" width="3.56" height="2.40" fill="#2e2486"/>
<ellipse cx="632.97" cy="16.10" rx="1.97" ry="0.8" fill="#58c090"/>
<rect x="630.62" y="17.10" width="0.75" height="2.40" fill="#ffff06"/>
<rect x="631.37" y="17.10" width="3.16" height="2.40" fill="#ffff06"/>
<rect x="634.43" y="17.10" width="2.16" height="2.40" fill="#ffff06"/>
<rect x="636.49" y="17.10" width="2.01" height="2.40" fill="#63c487"/>
<rect x="638.40" y="17.10" width="3.10" height="2.40" fill="#2ab8b8"/>
<rect x="641.40" y="17.10" width="1.79" height="2.40" fill="#1f93e2"/>
<rect x="643.09" y="17.10" width="2.66" height="2.40" fill="#1a62e0"/>
<rect x="645.65" y="17.10" width="0.77" height="2.40" fill="#2b3fb0"/>
<rect x="646.32" y="17.10" width="5.30" height="2.40" fill="#2e2486"/>
<ellipse cx="649.32" cy="18.30" rx="1.23" ry="0.8" fill="#1a62e0"/>
<rect x="631.47" y="19.30" width="1.16" height="2.40" fill="#ffff06"/>
<rect x="632.63" y="19.30" width="2.15" height="2.40" fill="#f3bd36"/>
<rect x="634.69" y="19.30" width="2.62" height="2.40" fill="#ffff06"/>
<rect x="637.21" y="19.30" width="1.27" height="2.40" fill="#63c487"/>
<rect x="638.38" y="19.30" width="1.34" height="2.40" fill="#2ab8b8"/>
<rect x="639.62" y="19.30" width="2.42" height="2.40" fill="#1f93e2"/>
<rect x="641.93" y="19.30" width="1.56" height="2.40" fill="#1a62e0"/>
<rect x="643.40" y="19.30" width="1.27" height="2.40" fill="#2b3fb0"/>
<rect x="644.56" y="19.30" width="7.91" height="2.40" fill="#2e2486"/>
<rect x="632.33" y="21.50" width="4.24" height="2.40" fill="#ffff06"/>
<rect x="636.57" y="21.50" width="1.69" height="2.40" fill="#f3bd36"/>
<rect x="638.17" y="21.50" width="2.33" height="2.40" fill="#ffff06"/>
<rect x="640.39" y="21.50" width="1.66" height="2.40" fill="#63c487"/>
<rect x="641.95" y="21.50" width="2.55" height="2.40" fill="#2ab8b8"/>
<rect x="644.40" y="21.50" width="2.55" height="2.40" fill="#1f93e2"/>
<rect x="646.84" y="21.50" width="1.67" height="2.40" fill="#1a62e0"/>
<rect x="648.41" y="21.50" width="0.73" height="2.40" fill="#2b3fb0"/>
<rect x="649.04" y="21.50" width="4.29" height="2.40" fill="#2e2486"/>
<rect x="633.18" y="23.70" width="5.98" height="2.40" fill="#ffff06"/>
<rect x="639.17" y="23.70" width="4.22" height="2.40" fill="#ffff06"/>
<rect x="643.29" y="23.70" width="1.56" height="2.40" fill="#d4d038"/>
<rect x="644.76" y="23.70" width="0.94" height="2.40" fill="#63c487"/>
<rect x="645.60" y="23.70" width="2.37" height="2.40" fill="#2ab8b8"/>
<rect x="647.87" y="23.70" width="1.49" height="2.40" fill="#1f93e2"/>
<rect x="649.25" y="23.70" width="1.52" height="2.40" fill="#1a62e0"/>
<rect x="650.68" y="23.70" width="1.31" height="2.40" fill="#2b3fb0"/>
<rect x="651.88" y="23.70" width="2.30" height="2.40" fill="#2e2486"/>
<rect x="634.05" y="25.90" width="4.24" height="2.40" fill="#ffff06"/>
<rect x="638.29" y="25.90" width="3.09" height="2.40" fill="#f3bd36"/>
<rect x="641.27" y="25.90" width="0.94" height="2.40" fill="#ffff06"/>
<rect x="642.11" y="25.90" width="1.65" height="2.40" fill="#63c487"/>
<rect x="643.66" y="25.90" width="1.67" height="2.40" fill="#2ab8b8"/>
<rect x="645.23" y="25.90" width="1.96" height="2.40" fill="#1f93e2"/>
<rect x="647.09" y="25.90" width="1.21" height="2.40" fill="#1a62e0"/>
<rect x="648.20" y="25.90" width="0.66" height="2.40" fill="#2b3fb0"/>
<rect x="648.76" y="25.90" width="6.29" height="2.40" fill="#2e2486"/>
<rect x="635.15" y="28.10" width="2.00" height="2.40" fill="#ffff06"/>
<rect x="637.15" y="28.10" width="3.65" height="2.40" fill="#ffff06"/>
<rect x="640.70" y="28.10" width="2.33" height="2.40" fill="#d4d038"/>
<rect x="642.93" y="28.10" width="1.73" height="2.40" fill="#63c487"/>
<rect x="644.56" y="28.10" width="1.32" height="2.40" fill="#2ab8b8"/>
<rect x="645.78" y="28.10" width="1.78" height="2.40" fill="#1f93e2"/>
<rect x="647.46" y="28.10" width="2.05" height="2.40" fill="#1a62e0"/>
<rect x="649.41" y="28.10" width="0.74" height="2.40" fill="#2b3fb0"/>
<rect x="650.05" y="28.10" width="6.10" height="2.40" fill="#2e2486"/>
<rect x="636.25" y="30.30" width="4.26" height="2.40" fill="#ffff06"/>
<rect x="640.51" y="30.30" width="1.68" height="2.40" fill="#f3bd36"/>
<rect x="642.08" y="30.30" width="2.57" height="2.40" fill="#d4d038"/>
<rect x="644.55" y="30.30" width="1.07" height="2.40" fill="#63c487"/>
<rect x="645.52" y="30.30" width="2.74" height="2.40" fill="#2ab8b8"/>
<rect x="648.17" y="30.30" width="2.59" height="2.40" fill="#1f93e2"/>
<rect x="650.66" y="30.30" width="1.04" height="2.40" fill="#1a62e0"/>
<rect x="651.60" y="30.30" width="1.15" height="2.40" fill="#2b3fb0"/>
<rect x="652.65" y="30.30" width="4.60" height="2.40" fill="#2e2486"/>
<ellipse cx="655.57" cy="31.50" rx="1.47" ry="0.8" fill="#1a62e0"/>
<ellipse cx="636.61" cy="31.50" rx="1.52" ry="0.8" fill="#2ab8b8"/>
<rect x="637.35" y="32.50" width="6.56" height="2.40" fill="#ffff06"/>
<rect x="643.91" y="32.50" width="2.37" height="2.40" fill="#f3bd36"/>
<rect x="646.18" y="32.50" width="1.05" height="2.40" fill="#d4d038"/>
<rect x="647.13" y="32.50" width="1.59" height="2.40" fill="#63c487"/>
<rect x="648.63" y="32.50" width="1.93" height="2.40" fill="#2ab8b8"/>
<rect x="650.46" y="32.50" width="1.81" height="2.40" fill="#1f93e2"/>
<rect x="652.17" y="32.50" width="2.40" height="2.40" fill="#1a62e0"/>
<rect x="654.47" y="32.50" width="0.91" height="2.40" fill="#2b3fb0"/>
<rect x="655.28" y="32.50" width="3.07" height="2.40" fill="#2e2486"/>
<rect x="638.45" y="34.70" width="5.01" height="2.40" fill="#ffff06"/>
<rect x="643.46" y="34.70" width="1.50" height="2.40" fill="#ffff06"/>
<rect x="644.86" y="34.70" width="1.25" height="2.40" fill="#d4d038"/>
<rect x="646.01" y="34.70" width="1.94" height="2.40" fill="#63c487"/>
<rect x="647.85" y="34.70" width="2.35" height="2.40" fill="#2ab8b8"/>
<rect x="650.10" y="34.70" width="1.80" height="2.40" fill="#1f93e2"/>
<rect x="651.80" y="34.70" width="1.88" height="2.40" fill="#1a62e0"/>
<rect x="653.58" y="34.70" width="1.37" height="2.40" fill="#2b3fb0"/>
<rect x="654.85" y="34.70" width="4.60" height="2.40" fill="#2e2486"/>
<ellipse cx="640.82" cy="35.90" rx="1.95" ry="0.8" fill="#e9b83c"/>
<rect x="640.15" y="36.90" width="4.36" height="2.40" fill="#ffff06"/>
<rect x="644.51" y="36.90" width="3.94" height="2.40" fill="#f3bd36"/>
<rect x="648.35" y="36.90" width="2.41" height="2.40" fill="#d4d038"/>
<rect x="650.66" y="36.90" width="0.92" height="2.40" fill="#63c487"/>
<rect x="651.48" y="36.90" width="1.56" height="2.40" fill="#2ab8b8"/>
<rect x="652.94" y="36.90" width="0.96" height="2.40" fill="#1f93e2"/>
<rect x="653.80" y="36.90" width="2.31" height="2.40" fill="#1a62e0"/>
<rect x="656.02" y="36.90" width="0.95" height="2.40" fill="#2b3fb0"/>
<rect x="656.87" y="36.90" width="4.28" height="2.40" fill="#2e2486"/>
<ellipse cx="660.58" cy="38.10" rx="1.63" ry="0.8" fill="#1a62e0"/>
<ellipse cx="641.14" cy="38.10" rx="1.37" ry="0.8" fill="#e9b83c"/>
<rect x="641.88" y="39.10" width="1.84" height="2.40" fill="#ffff06"/>
<rect x="643.72" y="39.10" width="1.46" height="2.40" fill="#f3bd36"/>
<rect x="645.08" y="39.10" width="0.99" height="2.40" fill="#d4d038"/>
<rect x="645.97" y="39.10" width="0.91" height="2.40" fill="#63c487"/>
<rect x="646.78" y="39.10" width="1.31" height="2.40" fill="#2ab8b8"/>
<rect x="648.00" y="39.10" width="2.61" height="2.40" fill="#1f93e2"/>
<rect x="650.51" y="39.10" width="1.85" height="2.40" fill="#1a62e0"/>
<rect x="652.26" y="39.10" width="1.21" height="2.40" fill="#2b3fb0"/>
<rect x="653.37" y="39.10" width="9.50" height="2.40" fill="#2e2486"/>
<ellipse cx="655.43" cy="40.30" rx="1.32" ry="0.8" fill="#1a62e0"/>
<ellipse cx="640.24" cy="40.30" rx="2.12" ry="0.8" fill="#2ab8b8"/>
<rect x="643.61" y="41.30" width="5.53" height="2.40" fill="#ffff06"/>
<rect x="649.14" y="41.30" width="1.42" height="2.40" fill="#f3bd36"/>
<rect x="650.46" y="41.30" width="2.42" height="2.40" fill="#ffff06"/>
<rect x="652.78" y="41.30" width="1.14" height="2.40" fill="#63c487"/>
<rect x="653.82" y="41.30" width="1.61" height="2.40" fill="#2ab8b8"/>
<rect x="655.33" y="41.30" width="1.83" height="2.40" fill="#1f93e2"/>
<rect x="657.06" y="41.30" width="1.64" height="2.40" fill="#1a62e0"/>
<rect x="658.60" y="41.30" width="0.92" height="2.40" fill="#2b3fb0"/>
<rect x="659.42" y="41.30" width="5.19" height="2.40" fill="#2e2486"/>
<ellipse cx="647.50" cy="42.50" rx="1.33" ry="0.8" fill="#58c090"/>
<rect x="645.92" y="43.50" width="0.76" height="2.40" fill="#ffff06"/>
<rect x="646.68" y="43.50" width="2.78" height="2.40" fill="#ffff06"/>
<rect x="649.36" y="43.50" width="2.15" height="2.40" fill="#d4d038"/>
<rect x="651.42" y="43.50" width="1.45" height="2.40" fill="#63c487"/>
<rect x="652.77" y="43.50" width="1.38" height="2.40" fill="#2ab8b8"/>
<rect x="654.05" y="43.50" width="1.03" height="2.40" fill="#1f93e2"/>
<rect x="654.97" y="43.50" width="1.58" height="2.40" fill="#1a62e0"/>
<rect x="656.45" y="43.50" width="0.84" height="2.40" fill="#2b3fb0"/>
<rect x="657.20" y="43.50" width="9.73" height="2.40" fill="#2e2486"/>
<rect x="648.42" y="45.70" width="6.46" height="2.40" fill="#ffff06"/>
<rect x="654.87" y="45.70" width="2.63" height="2.40" fill="#ffff06"/>
<rect x="657.40" y="45.70" width="0.91" height="2.40" fill="#d4d038"/>
<rect x="658.20" y="45.70" width="1.89" height="2.40" fill="#63c487"/>
<rect x="659.99" y="45.70" width="2.23" height="2.40" fill="#2ab8b8"/>
<rect x="662.13" y="45.70" width="0.98" height="2.40" fill="#1f93e2"/>
<rect x="663.00" y="45.70" width="1.71" height="2.40" fill="#1a62e0"/>
<rect x="664.61" y="45.70" width="1.07" height="2.40" fill="#2b3fb0"/>
<rect x="665.58" y="45.70" width="3.83" height="2.40" fill="#2e2486"/>
<rect x="651.48" y="47.90" width="0.99" height="2.40" fill="#ffff06"/>
<rect x="652.47" y="47.90" width="3.94" height="2.40" fill="#ffff06"/>
<rect x="656.30" y="47.90" width="2.00" height="2.40" fill="#d4d038"/>
<rect x="658.21" y="47.90" width="1.20" height="2.40" fill="#63c487"/>
<rect x="659.31" y="47.90" width="3.04" height="2.40" fill="#2ab8b8"/>
<rect x="662.24" y="47.90" width="1.64" height="2.40" fill="#1f93e2"/>
<rect x="663.78" y="47.90" width="0.93" height="2.40" fill="#1a62e0"/>
<rect x="664.61" y="47.90" width="0.69" height="2.40" fill="#2b3fb0"/>
<rect x="665.20" y="47.90" width="7.28" height="2.40" fill="#2e2486"/>
<rect x="655.83" y="50.10" width="5.12" height="2.40" fill="#ffff06"/>
<rect x="660.95" y="50.10" width="2.04" height="2.40" fill="#ffff06"/>
<rect x="662.90" y="50.10" width="0.95" height="2.40" fill="#ffff06"/>
<rect x="663.74" y="50.10" width="2.14" height="2.40" fill="#63c487"/>
<rect x="665.78" y="50.10" width="2.22" height="2.40" fill="#2ab8b8"/>
<rect x="667.90" y="50.10" width="2.43" height="2.40" fill="#1f93e2"/>
<rect x="670.23" y="50.10" width="1.11" height="2.40" fill="#1a62e0"/>
<rect x="671.24" y="50.10" width="1.11" height="2.40" fill="#2b3fb0"/>
<rect x="672.25" y="50.10" width="4.58" height="2.40" fill="#2e2486"/>
<rect x="660.00" y="52.30" width="6.71" height="1.20" fill="#ffff06"/>
<rect x="666.71" y="52.30" width="2.92" height="1.20" fill="#ffff06"/>
<rect x="669.53" y="52.30" width="1.09" height="1.20" fill="#ffff06"/>
<rect x="670.52" y="52.30" width="1.51" height="1.20" fill="#63c487"/>
<rect x="671.93" y="52.30" width="2.75" height="1.20" fill="#2ab8b8"/>
<rect x="674.58" y="52.30" width="2.16" height="1.20" fill="#1f93e2"/>
<rect x="676.64" y="52.30" width="1.73" height="1.20" fill="#1a62e0"/>
<rect x="678.27" y="52.30" width="0.71" height="1.20" fill="#2b3fb0"/>
<rect x="678.88" y="52.30" width="2.12" height="1.20" fill="#2e2486"/>
<ellipse cx="637.44" cy="35.10" rx="2.01" ry="1.00" fill="#efb045" transform="rotate(8 637.44 35.10)"/>
<ellipse cx="630.87" cy="24.01" rx="2.81" ry="1.00" fill="#f6b43a" transform="rotate(26 630.87 24.01)"/>
<ellipse cx="641.02" cy="48.64" rx="1.84" ry="1.00" fill="#f6b43a" transform="rotate(14 641.02 48.64)"/>
<ellipse cx="626.42" cy="12.32" rx="2.46" ry="1.00" fill="#f6b43a" transform="rotate(14 626.42 12.32)"/>
<ellipse cx="650.08" cy="48.24" rx="2.34" ry="1.00" fill="#f4a93c" transform="rotate(26 650.08 48.24)"/>
<ellipse cx="630.92" cy="19.59" rx="2.47" ry="1.00" fill="#f8c230" transform="rotate(8 630.92 19.59)"/>
<ellipse cx="622.70" cy="37.60" rx="2.45" ry="1.05" fill="#f2b040" transform="rotate(16 622.70 37.60)"/>
<ellipse cx="625.20" cy="25.00" rx="2.37" ry="1.05" fill="#f4a93c" transform="rotate(22 625.20 25.00)"/>
<ellipse cx="632.70" cy="35.00" rx="2.14" ry="1.05" fill="#f2b040" transform="rotate(16 632.70 35.00)"/>
<ellipse cx="637.70" cy="47.60" rx="2.15" ry="1.05" fill="#f4a93c" transform="rotate(16 637.70 47.60)"/>
<ellipse cx="642.70" cy="50.00" rx="2.82" ry="1.05" fill="#f2b040" transform="rotate(22 642.70 50.00)"/>
<ellipse cx="645.20" cy="55.00" rx="2.53" ry="1.05" fill="#f2b040" transform="rotate(10 645.20 55.00)"/>
<ellipse cx="646.70" cy="67.70" rx="2.24" ry="1.05" fill="#f4a93c" transform="rotate(10 646.70 67.70)"/>
<ellipse cx="650.00" cy="60.00" rx="2.53" ry="1.05" fill="#f4a93c" transform="rotate(16 650.00 60.00)"/>
<ellipse cx="630.20" cy="30.00" rx="2.77" ry="1.05" fill="#f4a93c" transform="rotate(22 630.20 30.00)"/>
<ellipse cx="628.00" cy="14.00" rx="2.60" ry="1.05" fill="#f8c230" transform="rotate(16 628.00 14.00)"/>
<ellipse cx="633.00" cy="21.00" rx="2.80" ry="1.05" fill="#f8c230" transform="rotate(16 633.00 21.00)"/>
</g>
<path d="M671.00,52.50 L753.50,52.50" fill="none" stroke="#2468d8" stroke-width="1.3" opacity="0.9"/>
<path d="M753.50,53.20 L625.00,138.40 L608.30,138.40" fill="none" stroke="#2a6fd6" stroke-width="1.9" opacity="0.9"/>
<path d="M753.50,52.60 L625.00,137.80 L608.30,137.80" fill="none" stroke="#3cc0b0" stroke-width="1.5" stroke-dasharray="1.4 1.5" opacity="0.95"/>
</g>
<path d="M608.30,4.00 L608.30,148.80 L753.50,148.80" fill="none" stroke="#4a4a3a" stroke-width="0.5" opacity="0.7"/>
<text x="605.70" y="17.28" font-size="6.9" text-anchor="end" font-weight="normal" fill="#161616">140</text>
<text x="605.70" y="36.98" font-size="6.9" text-anchor="end" font-weight="normal" fill="#161616">120</text>
<text x="605.70" y="56.68" font-size="6.9" text-anchor="end" font-weight="normal" fill="#161616">100</text>
<text x="605.70" y="76.38" font-size="6.9" text-anchor="end" font-weight="normal" fill="#161616">80</text>
<text x="605.70" y="96.08" font-size="6.9" text-anchor="end" font-weight="normal" fill="#161616">60</text>
<text x="605.70" y="115.78" font-size="6.9" text-anchor="end" font-weight="normal" fill="#161616">40</text>
<text x="605.70" y="135.48" font-size="6.9" text-anchor="end" font-weight="normal" fill="#161616">20</text>
<text x="633.20" y="158.90" font-size="6.9" text-anchor="middle" font-weight="normal" fill="#161616">20</text>
<text x="663.30" y="158.90" font-size="6.9" text-anchor="middle" font-weight="normal" fill="#161616">40</text>
<text x="693.40" y="158.90" font-size="6.9" text-anchor="middle" font-weight="normal" fill="#161616">60</text>
<text x="723.50" y="158.90" font-size="6.9" text-anchor="middle" font-weight="normal" fill="#161616">80</text>
<text x="753.60" y="158.90" font-size="6.9" text-anchor="middle" font-weight="normal" fill="#161616">100</text>
<text x="678.30" y="36.60" font-size="6.9" text-anchor="start" font-weight="normal" fill="#ffffff">k=50</text>
<text x="591.60" y="75.90" font-size="7.6" text-anchor="middle" font-weight="normal" fill="#161616" transform="rotate(-90 591.60 75.90)" stroke="#161616" stroke-width="0.3">M</text>
<text x="679.90" y="168.40" font-size="8" text-anchor="middle" font-weight="normal" fill="#161616">k</text>
<g stroke="#e2e2e2" stroke-width="0.6" fill="none">
<path d="M107.60,173.30 L169.00,205.00 L169.00,282.00"/>
<path d="M109.50,171.50 L109.50,248.50"/>
<path d="M43.00,264.60 L109.50,233.10 L169.00,266.60"/>
<path d="M43.00,249.20 L109.50,217.70 L169.00,251.20"/>
<path d="M43.00,233.80 L109.50,202.30 L169.00,235.80"/>
<path d="M43.00,218.40 L109.50,186.90 L169.00,220.40"/>
<path d="M131.42,260.84 L131.42,185.60"/>
<path d="M143.95,267.89 L143.95,192.07"/>
<path d="M156.47,274.95 L156.47,198.53"/>
<path d="M59.05,272.40 L59.05,195.40"/>
<path d="M77.40,263.71 L77.40,186.71"/>
<path d="M95.74,255.02 L95.74,178.02"/>
</g>
<polygon points="43.00,280.00 102.50,313.50 169.00,282.00 109.50,248.50" fill="#2e2486"/>
<polygon points="48.00,201.00 107.60,179.00 117.30,200.40 145.00,215.40 146.00,288.00 74.00,287.00 43.70,282.52" fill="url(#wgb)"/>
<polygon points="105.00,180.50 116.90,177.70 117.30,201.40 105.00,198.40" fill="url(#nwb)"/>
<polygon points="48.00,201.00 107.60,173.00 116.90,177.70 105.00,182.50 105.50,197.40 117.30,201.40 145.00,216.00 54.00,203.50" fill="#ffff06"/>
<g stroke="#333" stroke-width="0.6" fill="none">
<path d="M43.00,280.00 L43.00,203.00"/>
<path d="M43.00,280.00 L102.50,313.50 L169.00,282.00" stroke="#2a2470"/>
<path d="M41.50,280.00 L43.00,280.00"/>
<path d="M41.50,264.60 L43.00,264.60"/>
<path d="M41.50,249.20 L43.00,249.20"/>
<path d="M41.50,233.80 L43.00,233.80"/>
<path d="M41.50,218.40 L43.00,218.40"/>
<path d="M41.50,203.00 L43.00,203.00"/>
<path d="M52.39,285.29 L50.41,286.23" stroke="#555"/>
<path d="M64.92,292.34 L62.93,293.28" stroke="#555"/>
<path d="M77.45,299.39 L75.46,300.34" stroke="#555"/>
<path d="M89.97,306.45 L87.99,307.39" stroke="#555"/>
<path d="M102.50,313.50 L100.51,314.44" stroke="#555"/>
<path d="M118.55,305.90 L120.47,306.98" stroke="#555"/>
<path d="M136.90,297.21 L138.81,298.29" stroke="#555"/>
<path d="M155.24,288.52 L157.16,289.60" stroke="#555"/>
</g>
<text x="39.00" y="282.45" font-size="6.8" text-anchor="end" font-weight="normal" fill="#161616">0</text>
<text x="39.00" y="267.05" font-size="6.8" text-anchor="end" font-weight="normal" fill="#161616">0.2</text>
<text x="39.00" y="251.65" font-size="6.8" text-anchor="end" font-weight="normal" fill="#161616">0.4</text>
<text x="39.00" y="236.25" font-size="6.8" text-anchor="end" font-weight="normal" fill="#161616">0.6</text>
<text x="39.00" y="220.85" font-size="6.8" text-anchor="end" font-weight="normal" fill="#161616">0.8</text>
<text x="39.00" y="205.45" font-size="6.8" text-anchor="end" font-weight="normal" fill="#161616">1</text>
<text x="45.00" y="296.13" font-size="7.3" text-anchor="middle" font-weight="normal" fill="#161616">20</text>
<text x="57.50" y="302.63" font-size="7.3" text-anchor="middle" font-weight="normal" fill="#161616">40</text>
<text x="70.50" y="309.63" font-size="7.3" text-anchor="middle" font-weight="normal" fill="#161616">60</text>
<text x="83.50" y="316.13" font-size="7.3" text-anchor="middle" font-weight="normal" fill="#161616">80</text>
<text x="94.50" y="322.63" font-size="7.3" text-anchor="middle" font-weight="normal" fill="#161616">100</text>
<text x="128.00" y="315.63" font-size="7.3" text-anchor="middle" font-weight="normal" fill="#161616">40</text>
<text x="146.50" y="307.63" font-size="7.3" text-anchor="middle" font-weight="normal" fill="#161616">80</text>
<text x="165.50" y="299.13" font-size="7.3" text-anchor="middle" font-weight="normal" fill="#161616">120</text>
<text x="50.00" y="321.63" font-size="7.9" text-anchor="middle" font-weight="normal" fill="#161616">k</text>
<text x="160.00" y="323.63" font-size="7.9" text-anchor="middle" font-weight="normal" fill="#161616">M</text>
<text x="22.60" y="232.40" font-size="7.8" text-anchor="middle" font-weight="normal" fill="#161616" transform="rotate(-90 22.60 232.40)">Success rate</text>
<text x="12.00" y="184.10" font-size="10.5" text-anchor="start" font-weight="bold" fill="#0c0c14" stroke="#0c0c14" stroke-width="0.25">(b) NW</text>
<rect x="185.00" y="175.75" width="14.30" height="139.75" fill="url(#cbb)" stroke="#33331c" stroke-width="0.85"/>
<line x1="197.80" y1="175.75" x2="199.30" y2="175.75" stroke="#333" stroke-width="0.6"/>
<text x="202.20" y="178.35" font-size="6.1" text-anchor="start" font-weight="normal" fill="#161616">1</text>
<line x1="197.80" y1="189.72" x2="199.30" y2="189.72" stroke="#333" stroke-width="0.6"/>
<text x="202.20" y="192.32" font-size="6.1" text-anchor="start" font-weight="normal" fill="#161616">0.9</text>
<line x1="197.80" y1="203.70" x2="199.30" y2="203.70" stroke="#333" stroke-width="0.6"/>
<text x="202.20" y="206.30" font-size="6.1" text-anchor="start" font-weight="normal" fill="#161616">0.8</text>
<line x1="197.80" y1="217.68" x2="199.30" y2="217.68" stroke="#333" stroke-width="0.6"/>
<text x="202.20" y="220.27" font-size="6.1" text-anchor="start" font-weight="normal" fill="#161616">0.7</text>
<line x1="197.80" y1="231.65" x2="199.30" y2="231.65" stroke="#333" stroke-width="0.6"/>
<text x="202.20" y="234.25" font-size="6.1" text-anchor="start" font-weight="normal" fill="#161616">0.6</text>
<line x1="197.80" y1="245.62" x2="199.30" y2="245.62" stroke="#333" stroke-width="0.6"/>
<text x="202.20" y="248.22" font-size="6.1" text-anchor="start" font-weight="normal" fill="#161616">0.5</text>
<line x1="197.80" y1="259.60" x2="199.30" y2="259.60" stroke="#333" stroke-width="0.6"/>
<text x="202.20" y="262.20" font-size="6.1" text-anchor="start" font-weight="normal" fill="#161616">0.4</text>
<line x1="197.80" y1="273.57" x2="199.30" y2="273.57" stroke="#333" stroke-width="0.6"/>
<text x="202.20" y="276.17" font-size="6.1" text-anchor="start" font-weight="normal" fill="#161616">0.3</text>
<line x1="197.80" y1="287.55" x2="199.30" y2="287.55" stroke="#333" stroke-width="0.6"/>
<text x="202.20" y="290.15" font-size="6.1" text-anchor="start" font-weight="normal" fill="#161616">0.2</text>
<line x1="197.80" y1="301.52" x2="199.30" y2="301.52" stroke="#333" stroke-width="0.6"/>
<text x="202.20" y="304.12" font-size="6.1" text-anchor="start" font-weight="normal" fill="#161616">0.1</text>
<line x1="197.80" y1="315.50" x2="199.30" y2="315.50" stroke="#333" stroke-width="0.6"/>
<text x="202.20" y="318.10" font-size="6.1" text-anchor="start" font-weight="normal" fill="#161616">0</text>
<rect x="237.00" y="174.60" width="143.00" height="139.90" fill="#2e2486"/>
<line x1="305.50" y1="174.60" x2="305.50" y2="314.50" stroke="#bd1431" stroke-width="1.15"/>
<g clip-path="url(#hcb)">
<polygon points="237.00,174.60 259.30,174.60 259.80,181.00 260.50,188.00 263.00,197.00 269.00,206.00 275.50,214.70 284.50,220.00 293.00,222.00 293.00,221.90 380.00,221.90 254.00,303.50 237.00,303.50" fill="#ffff06"/>
<g filter="url(#blb)">
<rect x="255.39" y="174.50" width="4.53" height="2.40" fill="#ffff06"/>
<rect x="259.92" y="174.50" width="3.52" height="2.40" fill="#f3bd36"/>
<rect x="263.34" y="174.50" width="2.56" height="2.40" fill="#d4d038"/>
<rect x="265.80" y="174.50" width="2.07" height="2.40" fill="#63c487"/>
<rect x="267.77" y="174.50" width="1.11" height="2.40" fill="#2ab8b8"/>
<rect x="268.78" y="174.50" width="1.72" height="2.40" fill="#1f93e2"/>
<rect x="270.40" y="174.50" width="2.56" height="2.40" fill="#1a62e0"/>
<rect x="272.86" y="174.50" width="1.07" height="2.40" fill="#2b3fb0"/>
<rect x="273.83" y="174.50" width="2.56" height="2.40" fill="#2e2486"/>
<ellipse cx="257.25" cy="175.70" rx="1.45" ry="0.8" fill="#58c090"/>
<rect x="255.56" y="176.70" width="4.44" height="2.40" fill="#ffff06"/>
<rect x="260.00" y="176.70" width="1.44" height="2.40" fill="#ffff06"/>
<rect x="261.34" y="176.70" width="1.39" height="2.40" fill="#d4d038"/>
<rect x="262.63" y="176.70" width="1.84" height="2.40" fill="#63c487"/>
<rect x="264.37" y="176.70" width="1.38" height="2.40" fill="#2ab8b8"/>
<rect x="265.66" y="176.70" width="2.30" height="2.40" fill="#1f93e2"/>
<rect x="267.86" y="176.70" width="1.14" height="2.40" fill="#1a62e0"/>
<rect x="268.91" y="176.70" width="1.04" height="2.40" fill="#2b3fb0"/>
<rect x="269.85" y="176.70" width="6.71" height="2.40" fill="#2e2486"/>
<ellipse cx="271.35" cy="177.90" rx="2.07" ry="0.8" fill="#1a62e0"/>
<rect x="255.73" y="178.90" width="7.35" height="2.40" fill="#ffff06"/>
<rect x="263.08" y="178.90" width="1.87" height="2.40" fill="#ffff06"/>
<rect x="264.85" y="178.90" width="1.45" height="2.40" fill="#ffff06"/>
<rect x="266.21" y="178.90" width="2.00" height="2.40" fill="#63c487"/>
<rect x="268.11" y="178.90" width="2.36" height="2.40" fill="#2ab8b8"/>
<rect x="270.37" y="178.90" width="1.22" height="2.40" fill="#1f93e2"/>
<rect x="271.49" y="178.90" width="2.60" height="2.40" fill="#1a62e0"/>
<rect x="273.99" y="178.90" width="0.67" height="2.40" fill="#2b3fb0"/>
<rect x="274.56" y="178.90" width="2.17" height="2.40" fill="#2e2486"/>
<rect x="255.93" y="181.10" width="1.09" height="2.40" fill="#ffff06"/>
<rect x="257.02" y="181.10" width="2.59" height="2.40" fill="#f3bd36"/>
<rect x="259.51" y="181.10" width="1.36" height="2.40" fill="#ffff06"/>
<rect x="260.77" y="181.10" width="1.92" height="2.40" fill="#63c487"/>
<rect x="262.59" y="181.10" width="2.28" height="2.40" fill="#2ab8b8"/>
<rect x="264.76" y="181.10" width="1.95" height="2.40" fill="#1f93e2"/>
<rect x="266.61" y="181.10" width="2.15" height="2.40" fill="#1a62e0"/>
<rect x="268.66" y="181.10" width="0.56" height="2.40" fill="#2b3fb0"/>
<rect x="269.12" y="181.10" width="7.81" height="2.40" fill="#2e2486"/>
<rect x="256.15" y="183.30" width="4.34" height="2.40" fill="#ffff06"/>
<rect x="260.49" y="183.30" width="1.93" height="2.40" fill="#f3bd36"/>
<rect x="262.32" y="183.30" width="1.21" height="2.40" fill="#ffff06"/>
<rect x="263.43" y="183.30" width="2.09" height="2.40" fill="#63c487"/>
<rect x="265.42" y="183.30" width="3.03" height="2.40" fill="#2ab8b8"/>
<rect x="268.35" y="183.30" width="1.53" height="2.40" fill="#1f93e2"/>
<rect x="269.78" y="183.30" width="1.61" height="2.40" fill="#1a62e0"/>
<rect x="271.30" y="183.30" width="0.98" height="2.40" fill="#2b3fb0"/>
<rect x="272.18" y="183.30" width="4.97" height="2.40" fill="#2e2486"/>
<rect x="256.37" y="185.50" width="6.42" height="2.40" fill="#ffff06"/>
<rect x="262.79" y="185.50" width="2.70" height="2.40" fill="#f3bd36"/>
<rect x="265.38" y="185.50" width="2.00" height="2.40" fill="#d4d038"/>
<rect x="267.28" y="185.50" width="0.92" height="2.40" fill="#63c487"/>
<rect x="268.10" y="185.50" width="1.56" height="2.40" fill="#2ab8b8"/>
<rect x="269.56" y="185.50" width="2.34" height="2.40" fill="#1f93e2"/>
<rect x="271.80" y="185.50" width="1.71" height="2.40" fill="#1a62e0"/>
<rect x="273.42" y="185.50" width="0.95" height="2.40" fill="#2b3fb0"/>
<rect x="274.27" y="185.50" width="3.10" height="2.40" fill="#2e2486"/>
<rect x="256.75" y="187.70" width="4.16" height="2.40" fill="#ffff06"/>
<rect x="260.91" y="187.70" width="3.09" height="2.40" fill="#f3bd36"/>
<rect x="263.90" y="187.70" width="1.55" height="2.40" fill="#ffff06"/>
<rect x="265.35" y="187.70" width="1.37" height="2.40" fill="#63c487"/>
<rect x="266.61" y="187.70" width="3.09" height="2.40" fill="#2ab8b8"/>
<rect x="269.61" y="187.70" width="1.27" height="2.40" fill="#1f93e2"/>
<rect x="270.78" y="187.70" width="1.80" height="2.40" fill="#1a62e0"/>
<rect x="272.48" y="187.70" width="0.82" height="2.40" fill="#2b3fb0"/>
<rect x="273.20" y="187.70" width="4.55" height="2.40" fill="#2e2486"/>
<ellipse cx="275.39" cy="188.90" rx="1.90" ry="0.8" fill="#1a62e0"/>
<rect x="257.36" y="189.90" width="2.38" height="2.40" fill="#ffff06"/>
<rect x="259.74" y="189.90" width="1.91" height="2.40" fill="#ffff06"/>
<rect x="261.55" y="189.90" width="1.16" height="2.40" fill="#d4d038"/>
<rect x="262.61" y="189.90" width="2.18" height="2.40" fill="#63c487"/>
<rect x="264.68" y="189.90" width="1.39" height="2.40" fill="#2ab8b8"/>
<rect x="265.97" y="189.90" width="0.99" height="2.40" fill="#1f93e2"/>
<rect x="266.86" y="189.90" width="2.64" height="2.40" fill="#1a62e0"/>
<rect x="269.39" y="189.90" width="0.97" height="2.40" fill="#2b3fb0"/>
<rect x="270.26" y="189.90" width="8.10" height="2.40" fill="#2e2486"/>
<ellipse cx="256.75" cy="191.10" rx="2.03" ry="0.8" fill="#a8cc58"/>
<rect x="257.97" y="192.10" width="4.38" height="2.40" fill="#ffff06"/>
<rect x="262.35" y="192.10" width="1.82" height="2.40" fill="#f3bd36"/>
<rect x="264.07" y="192.10" width="2.02" height="2.40" fill="#d4d038"/>
<rect x="265.99" y="192.10" width="1.23" height="2.40" fill="#63c487"/>
<rect x="267.12" y="192.10" width="1.48" height="2.40" fill="#2ab8b8"/>
<rect x="268.50" y="192.10" width="2.63" height="2.40" fill="#1f93e2"/>
<rect x="271.03" y="192.10" width="1.89" height="2.40" fill="#1a62e0"/>
<rect x="272.82" y="192.10" width="0.62" height="2.40" fill="#2b3fb0"/>
<rect x="273.34" y="192.10" width="5.63" height="2.40" fill="#2e2486"/>
<rect x="258.58" y="194.30" width="1.32" height="2.40" fill="#ffff06"/>
<rect x="259.90" y="194.30" width="2.47" height="2.40" fill="#ffff06"/>
<rect x="262.27" y="194.30" width="1.64" height="2.40" fill="#ffff06"/>
<rect x="263.81" y="194.30" width="2.07" height="2.40" fill="#63c487"/>
<rect x="265.78" y="194.30" width="2.35" height="2.40" fill="#2ab8b8"/>
<rect x="268.02" y="194.30" width="1.20" height="2.40" fill="#1f93e2"/>
<rect x="269.12" y="194.30" width="1.82" height="2.40" fill="#1a62e0"/>
<rect x="270.84" y="194.30" width="1.34" height="2.40" fill="#2b3fb0"/>
<rect x="272.08" y="194.30" width="7.50" height="2.40" fill="#2e2486"/>
<rect x="259.47" y="196.50" width="1.20" height="2.40" fill="#ffff06"/>
<rect x="260.66" y="196.50" width="2.74" height="2.40" fill="#f3bd36"/>
<rect x="263.31" y="196.50" width="1.10" height="2.40" fill="#d4d038"/>
<rect x="264.31" y="196.50" width="1.51" height="2.40" fill="#63c487"/>
<rect x="265.72" y="196.50" width="1.42" height="2.40" fill="#2ab8b8"/>
<rect x="267.04" y="196.50" width="2.55" height="2.40" fill="#1f93e2"/>
<rect x="269.49" y="196.50" width="2.43" height="2.40" fill="#1a62e0"/>
<rect x="271.82" y="196.50" width="0.66" height="2.40" fill="#2b3fb0"/>
<rect x="272.38" y="196.50" width="8.09" height="2.40" fill="#2e2486"/>
<rect x="260.93" y="198.70" width="3.24" height="2.40" fill="#ffff06"/>
<rect x="264.18" y="198.70" width="2.84" height="2.40" fill="#ffff06"/>
<rect x="266.92" y="198.70" width="2.30" height="2.40" fill="#ffff06"/>
<rect x="269.12" y="198.70" width="1.59" height="2.40" fill="#63c487"/>
<rect x="270.61" y="198.70" width="1.12" height="2.40" fill="#2ab8b8"/>
<rect x="271.63" y="198.70" width="1.44" height="2.40" fill="#1f93e2"/>
<rect x="272.97" y="198.70" width="1.88" height="2.40" fill="#1a62e0"/>
<rect x="274.75" y="198.70" width="1.09" height="2.40" fill="#2b3fb0"/>
<rect x="275.74" y="198.70" width="6.20" height="2.40" fill="#2e2486"/>
<rect x="262.40" y="200.90" width="7.15" height="2.40" fill="#ffff06"/>
<rect x="269.55" y="200.90" width="3.45" height="2.40" fill="#f3bd36"/>
<rect x="272.90" y="200.90" width="1.50" height="2.40" fill="#ffff06"/>
<rect x="274.29" y="200.90" width="1.97" height="2.40" fill="#63c487"/>
<rect x="276.16" y="200.90" width="2.04" height="2.40" fill="#2ab8b8"/>
<rect x="278.10" y="200.90" width="2.26" height="2.40" fill="#1f93e2"/>
<rect x="280.27" y="200.90" width="1.47" height="2.40" fill="#1a62e0"/>
<rect x="281.64" y="200.90" width="0.74" height="2.40" fill="#2b3fb0"/>
<rect x="282.28" y="200.90" width="1.12" height="2.40" fill="#2e2486"/>
<rect x="263.87" y="203.10" width="5.98" height="2.40" fill="#ffff06"/>
<rect x="269.85" y="203.10" width="2.42" height="2.40" fill="#ffff06"/>
<rect x="272.17" y="203.10" width="1.51" height="2.40" fill="#d4d038"/>
<rect x="273.58" y="203.10" width="1.33" height="2.40" fill="#63c487"/>
<rect x="274.81" y="203.10" width="2.98" height="2.40" fill="#2ab8b8"/>
<rect x="277.69" y="203.10" width="1.20" height="2.40" fill="#1f93e2"/>
<rect x="278.79" y="203.10" width="2.43" height="2.40" fill="#1a62e0"/>
<rect x="281.12" y="203.10" width="0.90" height="2.40" fill="#2b3fb0"/>
<rect x="281.92" y="203.10" width="2.95" height="2.40" fill="#2e2486"/>
<rect x="265.37" y="205.30" width="1.59" height="2.40" fill="#ffff06"/>
<rect x="266.97" y="205.30" width="4.20" height="2.40" fill="#ffff06"/>
<rect x="271.07" y="205.30" width="1.54" height="2.40" fill="#d4d038"/>
<rect x="272.51" y="205.30" width="1.15" height="2.40" fill="#63c487"/>
<rect x="273.56" y="205.30" width="1.21" height="2.40" fill="#2ab8b8"/>
<rect x="274.68" y="205.30" width="2.08" height="2.40" fill="#1f93e2"/>
<rect x="276.66" y="205.30" width="1.63" height="2.40" fill="#1a62e0"/>
<rect x="278.19" y="205.30" width="1.04" height="2.40" fill="#2b3fb0"/>
<rect x="279.13" y="205.30" width="7.24" height="2.40" fill="#2e2486"/>
<rect x="267.02" y="207.50" width="6.31" height="2.40" fill="#ffff06"/>
<rect x="273.33" y="207.50" width="2.27" height="2.40" fill="#f3bd36"/>
<rect x="275.50" y="207.50" width="2.43" height="2.40" fill="#ffff06"/>
<rect x="277.82" y="207.50" width="2.17" height="2.40" fill="#63c487"/>
<rect x="279.90" y="207.50" width="1.46" height="2.40" fill="#2ab8b8"/>
<rect x="281.26" y="207.50" width="1.93" height="2.40" fill="#1f93e2"/>
<rect x="283.09" y="207.50" width="2.00" height="2.40" fill="#1a62e0"/>
<rect x="284.99" y="207.50" width="0.66" height="2.40" fill="#2b3fb0"/>
<rect x="285.55" y="207.50" width="2.47" height="2.40" fill="#2e2486"/>
<ellipse cx="270.04" cy="208.70" rx="2.19" ry="0.8" fill="#2ab8b8"/>
<rect x="268.66" y="209.70" width="1.87" height="2.40" fill="#ffff06"/>
<rect x="270.54" y="209.70" width="3.95" height="2.40" fill="#ffff06"/>
<rect x="274.39" y="209.70" width="2.60" height="2.40" fill="#d4d038"/>
<rect x="276.89" y="209.70" width="1.53" height="2.40" fill="#63c487"/>
<rect x="278.32" y="209.70" width="1.92" height="2.40" fill="#2ab8b8"/>
<rect x="280.14" y="209.70" width="1.52" height="2.40" fill="#1f93e2"/>
<rect x="281.56" y="209.70" width="2.07" height="2.40" fill="#1a62e0"/>
<rect x="283.53" y="209.70" width="0.56" height="2.40" fill="#2b3fb0"/>
<rect x="283.99" y="209.70" width="5.67" height="2.40" fill="#2e2486"/>
<ellipse cx="287.28" cy="210.90" rx="1.57" ry="0.8" fill="#2450c8"/>
<rect x="270.30" y="211.90" width="1.40" height="2.40" fill="#ffff06"/>
<rect x="271.70" y="211.90" width="2.57" height="2.40" fill="#ffff06"/>
<rect x="274.18" y="211.90" width="2.36" height="2.40" fill="#ffff06"/>
<rect x="276.44" y="211.90" width="0.80" height="2.40" fill="#63c487"/>
<rect x="277.14" y="211.90" width="2.33" height="2.40" fill="#2ab8b8"/>
<rect x="279.37" y="211.90" width="1.07" height="2.40" fill="#1f93e2"/>
<rect x="280.34" y="211.90" width="1.86" height="2.40" fill="#1a62e0"/>
<rect x="282.10" y="211.90" width="0.80" height="2.40" fill="#2b3fb0"/>
<rect x="282.80" y="211.90" width="8.51" height="2.40" fill="#2e2486"/>
<rect x="272.52" y="214.10" width="5.36" height="2.40" fill="#ffff06"/>
<rect x="277.88" y="214.10" width="2.60" height="2.40" fill="#f3bd36"/>
<rect x="280.38" y="214.10" width="2.03" height="2.40" fill="#ffff06"/>
<rect x="282.31" y="214.10" width="0.95" height="2.40" fill="#63c487"/>
<rect x="283.16" y="214.10" width="2.30" height="2.40" fill="#2ab8b8"/>
<rect x="285.36" y="214.10" width="1.89" height="2.40" fill="#1f93e2"/>
<rect x="287.15" y="214.10" width="2.58" height="2.40" fill="#1a62e0"/>
<rect x="289.63" y="214.10" width="1.35" height="2.40" fill="#2b3fb0"/>
<rect x="290.89" y="214.10" width="2.63" height="2.40" fill="#2e2486"/>
<rect x="276.25" y="216.30" width="7.12" height="2.40" fill="#ffff06"/>
<rect x="283.37" y="216.30" width="1.40" height="2.40" fill="#ffff06"/>
<rect x="284.68" y="216.30" width="1.90" height="2.40" fill="#d4d038"/>
<rect x="286.47" y="216.30" width="0.95" height="2.40" fill="#63c487"/>
<rect x="287.32" y="216.30" width="2.37" height="2.40" fill="#2ab8b8"/>
<rect x="289.59" y="216.30" width="2.47" height="2.40" fill="#1f93e2"/>
<rect x="291.96" y="216.30" width="1.56" height="2.40" fill="#1a62e0"/>
<rect x="293.42" y="216.30" width="0.88" height="2.40" fill="#2b3fb0"/>
<rect x="294.20" y="216.30" width="3.06" height="2.40" fill="#2e2486"/>
<rect x="279.99" y="218.50" width="8.25" height="2.40" fill="#ffff06"/>
<rect x="288.24" y="218.50" width="2.49" height="2.40" fill="#f3bd36"/>
<rect x="290.62" y="218.50" width="2.51" height="2.40" fill="#d4d038"/>
<rect x="293.03" y="218.50" width="1.12" height="2.40" fill="#63c487"/>
<rect x="294.05" y="218.50" width="3.10" height="2.40" fill="#2ab8b8"/>
<rect x="297.05" y="218.50" width="1.77" height="2.40" fill="#1f93e2"/>
<rect x="298.73" y="218.50" width="1.63" height="2.40" fill="#1a62e0"/>
<rect x="300.26" y="218.50" width="0.78" height="2.40" fill="#2b3fb0"/>
<rect x="300.94" y="218.50" width="0.10" height="2.40" fill="#2e2486"/>
<rect x="287.51" y="220.70" width="3.37" height="1.90" fill="#ffff06"/>
<rect x="290.88" y="220.70" width="2.76" height="1.90" fill="#ffff06"/>
<rect x="293.55" y="220.70" width="1.99" height="1.90" fill="#ffff06"/>
<rect x="295.44" y="220.70" width="1.17" height="1.90" fill="#63c487"/>
<rect x="296.51" y="220.70" width="2.68" height="1.90" fill="#2ab8b8"/>
<rect x="299.09" y="220.70" width="2.36" height="1.90" fill="#1f93e2"/>
<rect x="301.35" y="220.70" width="0.92" height="1.90" fill="#1a62e0"/>
<rect x="302.17" y="220.70" width="0.97" height="1.90" fill="#2b3fb0"/>
<rect x="303.04" y="220.70" width="5.47" height="1.90" fill="#2e2486"/>
<ellipse cx="271.70" cy="215.37" rx="2.67" ry="1.00" fill="#f4a93c" transform="rotate(20 271.70 215.37)"/>
<ellipse cx="257.29" cy="191.76" rx="2.42" ry="1.00" fill="#efb045" transform="rotate(8 257.29 191.76)"/>
<ellipse cx="258.71" cy="178.38" rx="2.44" ry="1.00" fill="#f8c230" transform="rotate(20 258.71 178.38)"/>
<ellipse cx="264.80" cy="207.24" rx="2.36" ry="1.00" fill="#f6b43a" transform="rotate(20 264.80 207.24)"/>
<ellipse cx="266.70" cy="210.53" rx="1.84" ry="1.00" fill="#f4a93c" transform="rotate(20 266.70 210.53)"/>
<ellipse cx="263.08" cy="204.32" rx="2.87" ry="1.00" fill="#f6b43a" transform="rotate(14 263.08 204.32)"/>
<ellipse cx="251.60" cy="177.20" rx="2.39" ry="1.05" fill="#f6b43a" transform="rotate(16 251.60 177.20)"/>
<ellipse cx="257.00" cy="182.50" rx="2.77" ry="1.05" fill="#f2b040" transform="rotate(16 257.00 182.50)"/>
<ellipse cx="257.90" cy="191.50" rx="2.35" ry="1.05" fill="#f2b040" transform="rotate(22 257.90 191.50)"/>
<ellipse cx="255.20" cy="200.40" rx="2.81" ry="1.05" fill="#f4a93c" transform="rotate(16 255.20 200.40)"/>
<ellipse cx="257.90" cy="207.60" rx="2.27" ry="1.05" fill="#f6b43a" transform="rotate(10 257.90 207.60)"/>
<ellipse cx="263.30" cy="208.50" rx="2.52" ry="1.05" fill="#f2b040" transform="rotate(22 263.30 208.50)"/>
<ellipse cx="266.80" cy="216.50" rx="2.82" ry="1.05" fill="#f2b040" transform="rotate(10 266.80 216.50)"/>
<ellipse cx="271.30" cy="213.80" rx="2.43" ry="1.05" fill="#f4a93c" transform="rotate(22 271.30 213.80)"/>
<ellipse cx="274.00" cy="222.80" rx="2.88" ry="1.05" fill="#f2b040" transform="rotate(22 274.00 222.80)"/>
<ellipse cx="278.50" cy="228.10" rx="2.38" ry="1.05" fill="#f4a93c" transform="rotate(22 278.50 228.10)"/>
<ellipse cx="283.00" cy="223.70" rx="2.06" ry="1.05" fill="#f6b43a" transform="rotate(10 283.00 223.70)"/>
<ellipse cx="261.50" cy="198.60" rx="2.74" ry="1.05" fill="#f8c230" transform="rotate(10 261.50 198.60)"/>
</g>
<path d="M300.00,221.60 L380.00,221.60" fill="none" stroke="#2468d8" stroke-width="1.3" opacity="0.9"/>
<path d="M380.00,222.30 L254.00,303.90 L237.00,303.90" fill="none" stroke="#2a6fd6" stroke-width="1.9" opacity="0.9"/>
<path d="M380.00,221.70 L254.00,303.30 L237.00,303.30" fill="none" stroke="#3cc0b0" stroke-width="1.5" stroke-dasharray="1.4 1.5" opacity="0.95"/>
</g>
<path d="M237.00,174.60 L237.00,314.50 L380.00,314.50" fill="none" stroke="#4a4a3a" stroke-width="0.5" opacity="0.7"/>
<text x="234.40" y="186.78" font-size="6.9" text-anchor="end" font-weight="normal" fill="#161616">140</text>
<text x="234.40" y="205.98" font-size="6.9" text-anchor="end" font-weight="normal" fill="#161616">120</text>
<text x="234.40" y="225.18" font-size="6.9" text-anchor="end" font-weight="normal" fill="#161616">100</text>
<text x="234.40" y="244.38" font-size="6.9" text-anchor="end" font-weight="normal" fill="#161616">80</text>
<text x="234.40" y="263.58" font-size="6.9" text-anchor="end" font-weight="normal" fill="#161616">60</text>
<text x="234.40" y="282.78" font-size="6.9" text-anchor="end" font-weight="normal" fill="#161616">40</text>
<text x="234.40" y="301.98" font-size="6.9" text-anchor="end" font-weight="normal" fill="#161616">20</text>
<text x="261.00" y="324.60" font-size="6.9" text-anchor="middle" font-weight="normal" fill="#161616">20</text>
<text x="290.80" y="324.60" font-size="6.9" text-anchor="middle" font-weight="normal" fill="#161616">40</text>
<text x="320.60" y="324.60" font-size="6.9" text-anchor="middle" font-weight="normal" fill="#161616">60</text>
<text x="350.40" y="324.60" font-size="6.9" text-anchor="middle" font-weight="normal" fill="#161616">80</text>
<text x="380.20" y="324.60" font-size="6.9" text-anchor="middle" font-weight="normal" fill="#161616">100</text>
<text x="305.60" y="206.10" font-size="6.9" text-anchor="start" font-weight="normal" fill="#ffffff">k=50</text>
<text x="220.00" y="244.80" font-size="7.6" text-anchor="middle" font-weight="normal" fill="#161616" transform="rotate(-90 220.00 244.80)" stroke="#161616" stroke-width="0.3">M</text>
<text x="308.60" y="334.50" font-size="8" text-anchor="middle" font-weight="normal" fill="#161616">k</text>
<g stroke="#e2e2e2" stroke-width="0.6" fill="none">
<path d="M479.90,177.60 L542.50,209.60 L542.50,277.60"/>
<path d="M481.20,174.60 L481.20,242.60"/>
<path d="M423.00,246.00 L481.20,208.60 L542.50,243.60"/>
<path d="M516.69,262.86 L516.69,196.41"/>
<path d="M529.59,270.23 L529.59,203.00"/>
<path d="M437.05,270.97 L437.05,202.97"/>
<path d="M453.10,260.66 L453.10,192.66"/>
<path d="M469.16,250.34 L469.16,182.34"/>
</g>
<polygon points="423.00,280.00 484.30,315.00 542.50,277.60 481.20,242.60" fill="#2e2486"/>
<polygon points="427.50,211.50 479.90,183.30 496.80,208.30 522.50,222.40 523.00,290.50 453.00,289.00 425.50,282.27" fill="url(#wgd)"/>
<polygon points="490.30,189.00 494.80,184.90 496.80,209.30 490.30,206.30" fill="url(#nwd)"/>
<polygon points="427.50,211.50 479.90,177.30 494.80,184.90 490.30,191.00 490.80,205.30 496.80,209.30 522.50,223.00 433.00,213.50" fill="#ffff06"/>
<g stroke="#333" stroke-width="0.6" fill="none">
<path d="M423.00,280.00 L423.00,212.00"/>
<path d="M423.00,280.00 L484.30,315.00 L542.50,277.60" stroke="#2a2470"/>
<path d="M421.50,280.00 L423.00,280.00"/>
<path d="M421.50,246.00 L423.00,246.00"/>
<path d="M421.50,212.00 L423.00,212.00"/>
<path d="M432.68,285.53 L430.83,286.72" stroke="#555"/>
<path d="M445.58,292.89 L443.73,294.08" stroke="#555"/>
<path d="M458.49,300.26 L456.64,301.45" stroke="#555"/>
<path d="M471.39,307.63 L469.54,308.82" stroke="#555"/>
<path d="M484.30,315.00 L482.45,316.19" stroke="#555"/>
<path d="M498.35,305.97 L500.26,307.06" stroke="#555"/>
<path d="M514.40,295.66 L516.31,296.75" stroke="#555"/>
<path d="M530.46,285.34 L532.37,286.43" stroke="#555"/>
</g>
<text x="419.50" y="282.45" font-size="6.8" text-anchor="end" font-weight="normal" fill="#161616">0</text>
<text x="419.50" y="248.45" font-size="6.8" text-anchor="end" font-weight="normal" fill="#161616">0.5</text>
<text x="419.50" y="214.45" font-size="6.8" text-anchor="end" font-weight="normal" fill="#161616">1</text>
<text x="426.00" y="296.63" font-size="7.3" text-anchor="middle" font-weight="normal" fill="#161616">20</text>
<text x="439.00" y="303.13" font-size="7.3" text-anchor="middle" font-weight="normal" fill="#161616">40</text>
<text x="452.00" y="309.63" font-size="7.3" text-anchor="middle" font-weight="normal" fill="#161616">60</text>
<text x="464.50" y="316.13" font-size="7.3" text-anchor="middle" font-weight="normal" fill="#161616">80</text>
<text x="476.00" y="324.63" font-size="7.3" text-anchor="middle" font-weight="normal" fill="#161616">100</text>
<text x="506.50" y="315.63" font-size="7.3" text-anchor="middle" font-weight="normal" fill="#161616">40</text>
<text x="522.50" y="305.63" font-size="7.3" text-anchor="middle" font-weight="normal" fill="#161616">80</text>
<text x="540.50" y="296.33" font-size="7.3" text-anchor="middle" font-weight="normal" fill="#161616">120</text>
<text x="433.00" y="326.13" font-size="7.9" text-anchor="middle" font-weight="normal" fill="#161616">k</text>
<text x="537.00" y="322.63" font-size="7.9" text-anchor="middle" font-weight="normal" fill="#161616">M</text>
<text x="403.20" y="238.60" font-size="7.8" text-anchor="middle" font-weight="normal" fill="#161616" transform="rotate(-90 403.20 238.60)">Success rate</text>
<text x="396.60" y="187.70" font-size="10.5" text-anchor="start" font-weight="bold" fill="#0c0c14" stroke="#0c0c14" stroke-width="0.25">(d) BA</text>
<rect x="559.00" y="175.75" width="14.10" height="137.95" fill="url(#cbd)" stroke="#33331c" stroke-width="0.85"/>
<line x1="571.60" y1="175.75" x2="573.10" y2="175.75" stroke="#333" stroke-width="0.6"/>
<text x="575.80" y="178.35" font-size="6.1" text-anchor="start" font-weight="normal" fill="#161616">1</text>
<line x1="571.60" y1="189.54" x2="573.10" y2="189.54" stroke="#333" stroke-width="0.6"/>
<text x="575.80" y="192.14" font-size="6.1" text-anchor="start" font-weight="normal" fill="#161616">0.9</text>
<line x1="571.60" y1="203.34" x2="573.10" y2="203.34" stroke="#333" stroke-width="0.6"/>
<text x="575.80" y="205.94" font-size="6.1" text-anchor="start" font-weight="normal" fill="#161616">0.8</text>
<line x1="571.60" y1="217.13" x2="573.10" y2="217.13" stroke="#333" stroke-width="0.6"/>
<text x="575.80" y="219.73" font-size="6.1" text-anchor="start" font-weight="normal" fill="#161616">0.7</text>
<line x1="571.60" y1="230.93" x2="573.10" y2="230.93" stroke="#333" stroke-width="0.6"/>
<text x="575.80" y="233.53" font-size="6.1" text-anchor="start" font-weight="normal" fill="#161616">0.6</text>
<line x1="571.60" y1="244.72" x2="573.10" y2="244.72" stroke="#333" stroke-width="0.6"/>
<text x="575.80" y="247.32" font-size="6.1" text-anchor="start" font-weight="normal" fill="#161616">0.5</text>
<line x1="571.60" y1="258.52" x2="573.10" y2="258.52" stroke="#333" stroke-width="0.6"/>
<text x="575.80" y="261.12" font-size="6.1" text-anchor="start" font-weight="normal" fill="#161616">0.4</text>
<line x1="571.60" y1="272.31" x2="573.10" y2="272.31" stroke="#333" stroke-width="0.6"/>
<text x="575.80" y="274.91" font-size="6.1" text-anchor="start" font-weight="normal" fill="#161616">0.3</text>
<line x1="571.60" y1="286.11" x2="573.10" y2="286.11" stroke="#333" stroke-width="0.6"/>
<text x="575.80" y="288.71" font-size="6.1" text-anchor="start" font-weight="normal" fill="#161616">0.2</text>
<line x1="571.60" y1="299.90" x2="573.10" y2="299.90" stroke="#333" stroke-width="0.6"/>
<text x="575.80" y="302.50" font-size="6.1" text-anchor="start" font-weight="normal" fill="#161616">0.1</text>
<line x1="571.60" y1="313.70" x2="573.10" y2="313.70" stroke="#333" stroke-width="0.6"/>
<text x="575.80" y="316.30" font-size="6.1" text-anchor="start" font-weight="normal" fill="#161616">0</text>
<rect x="610.40" y="177.20" width="143.10" height="137.50" fill="#2e2486"/>
<line x1="679.25" y1="177.20" x2="679.25" y2="314.70" stroke="#bd1431" stroke-width="1.15"/>
<g clip-path="url(#hcd)">
<polygon points="610.40,177.20 649.60,177.20 652.30,186.30 655.90,195.30 659.50,204.20 664.80,211.40 671.00,216.70 680.00,220.30 690.00,222.80 690.00,223.00 753.50,223.00 629.00,304.00 610.40,304.00" fill="#ffff06"/>
<g filter="url(#bld)">
<rect x="645.93" y="177.10" width="2.26" height="2.40" fill="#ffff06"/>
<rect x="648.19" y="177.10" width="1.83" height="2.40" fill="#f3bd36"/>
<rect x="649.92" y="177.10" width="1.03" height="2.40" fill="#d4d038"/>
<rect x="650.85" y="177.10" width="1.27" height="2.40" fill="#63c487"/>
<rect x="652.02" y="177.10" width="1.17" height="2.40" fill="#2ab8b8"/>
<rect x="653.09" y="177.10" width="1.79" height="2.40" fill="#1f93e2"/>
<rect x="654.78" y="177.10" width="0.97" height="2.40" fill="#1a62e0"/>
<rect x="655.65" y="177.10" width="0.88" height="2.40" fill="#2b3fb0"/>
<rect x="656.43" y="177.10" width="10.50" height="2.40" fill="#2e2486"/>
<ellipse cx="658.16" cy="178.30" rx="1.62" ry="0.8" fill="#1f86e0"/>
<ellipse cx="646.13" cy="178.30" rx="1.83" ry="0.8" fill="#58c090"/>
<rect x="646.58" y="179.30" width="3.78" height="2.40" fill="#ffff06"/>
<rect x="650.36" y="179.30" width="2.53" height="2.40" fill="#f3bd36"/>
<rect x="652.80" y="179.30" width="0.98" height="2.40" fill="#d4d038"/>
<rect x="653.68" y="179.30" width="1.16" height="2.40" fill="#63c487"/>
<rect x="654.74" y="179.30" width="1.35" height="2.40" fill="#2ab8b8"/>
<rect x="656.00" y="179.30" width="1.11" height="2.40" fill="#1f93e2"/>
<rect x="657.00" y="179.30" width="1.44" height="2.40" fill="#1a62e0"/>
<rect x="658.35" y="179.30" width="1.22" height="2.40" fill="#2b3fb0"/>
<rect x="659.46" y="179.30" width="8.12" height="2.40" fill="#2e2486"/>
<ellipse cx="662.42" cy="180.50" rx="1.84" ry="0.8" fill="#2450c8"/>
<ellipse cx="647.08" cy="180.50" rx="1.76" ry="0.8" fill="#2ab8b8"/>
<rect x="647.23" y="181.50" width="3.63" height="2.40" fill="#ffff06"/>
<rect x="650.86" y="181.50" width="2.92" height="2.40" fill="#f3bd36"/>
<rect x="653.68" y="181.50" width="1.72" height="2.40" fill="#d4d038"/>
<rect x="655.30" y="181.50" width="1.27" height="2.40" fill="#63c487"/>
<rect x="656.47" y="181.50" width="1.57" height="2.40" fill="#2ab8b8"/>
<rect x="657.94" y="181.50" width="1.22" height="2.40" fill="#1f93e2"/>
<rect x="659.05" y="181.50" width="2.27" height="2.40" fill="#1a62e0"/>
<rect x="661.23" y="181.50" width="0.57" height="2.40" fill="#2b3fb0"/>
<rect x="661.70" y="181.50" width="6.53" height="2.40" fill="#2e2486"/>
<rect x="647.88" y="183.70" width="2.42" height="2.40" fill="#ffff06"/>
<rect x="650.30" y="183.70" width="2.68" height="2.40" fill="#f3bd36"/>
<rect x="652.89" y="183.70" width="1.03" height="2.40" fill="#d4d038"/>
<rect x="653.82" y="183.70" width="0.99" height="2.40" fill="#63c487"/>
<rect x="654.70" y="183.70" width="1.76" height="2.40" fill="#2ab8b8"/>
<rect x="656.37" y="183.70" width="2.54" height="2.40" fill="#1f93e2"/>
<rect x="658.81" y="183.70" width="1.64" height="2.40" fill="#1a62e0"/>
<rect x="660.35" y="183.70" width="1.35" height="2.40" fill="#2b3fb0"/>
<rect x="661.60" y="183.70" width="7.29" height="2.40" fill="#2e2486"/>
<ellipse cx="664.49" cy="184.90" rx="1.99" ry="0.8" fill="#2450c8"/>
<rect x="648.62" y="185.90" width="2.11" height="2.40" fill="#ffff06"/>
<rect x="650.73" y="185.90" width="2.82" height="2.40" fill="#f3bd36"/>
<rect x="653.45" y="185.90" width="1.02" height="2.40" fill="#ffff06"/>
<rect x="654.37" y="185.90" width="1.14" height="2.40" fill="#63c487"/>
<rect x="655.40" y="185.90" width="2.51" height="2.40" fill="#2ab8b8"/>
<rect x="657.81" y="185.90" width="1.01" height="2.40" fill="#1f93e2"/>
<rect x="658.73" y="185.90" width="2.19" height="2.40" fill="#1a62e0"/>
<rect x="660.81" y="185.90" width="0.77" height="2.40" fill="#2b3fb0"/>
<rect x="661.49" y="185.90" width="8.13" height="2.40" fill="#2e2486"/>
<rect x="649.50" y="188.10" width="2.74" height="2.40" fill="#ffff06"/>
<rect x="652.24" y="188.10" width="3.45" height="2.40" fill="#f3bd36"/>
<rect x="655.59" y="188.10" width="1.51" height="2.40" fill="#d4d038"/>
<rect x="657.00" y="188.10" width="1.26" height="2.40" fill="#63c487"/>
<rect x="658.16" y="188.10" width="2.33" height="2.40" fill="#2ab8b8"/>
<rect x="660.38" y="188.10" width="1.77" height="2.40" fill="#1f93e2"/>
<rect x="662.05" y="188.10" width="1.28" height="2.40" fill="#1a62e0"/>
<rect x="663.24" y="188.10" width="0.75" height="2.40" fill="#2b3fb0"/>
<rect x="663.89" y="188.10" width="6.61" height="2.40" fill="#2e2486"/>
<rect x="650.38" y="190.30" width="6.51" height="2.40" fill="#ffff06"/>
<rect x="656.89" y="190.30" width="2.82" height="2.40" fill="#ffff06"/>
<rect x="659.61" y="190.30" width="1.61" height="2.40" fill="#ffff06"/>
<rect x="661.12" y="190.30" width="0.95" height="2.40" fill="#63c487"/>
<rect x="661.96" y="190.30" width="1.95" height="2.40" fill="#2ab8b8"/>
<rect x="663.81" y="190.30" width="1.87" height="2.40" fill="#1f93e2"/>
<rect x="665.58" y="190.30" width="2.14" height="2.40" fill="#1a62e0"/>
<rect x="667.62" y="190.30" width="1.37" height="2.40" fill="#2b3fb0"/>
<rect x="668.89" y="190.30" width="2.49" height="2.40" fill="#2e2486"/>
<rect x="651.26" y="192.50" width="2.43" height="2.40" fill="#ffff06"/>
<rect x="653.69" y="192.50" width="1.64" height="2.40" fill="#ffff06"/>
<rect x="655.22" y="192.50" width="2.06" height="2.40" fill="#ffff06"/>
<rect x="657.18" y="192.50" width="1.94" height="2.40" fill="#63c487"/>
<rect x="659.02" y="192.50" width="1.43" height="2.40" fill="#2ab8b8"/>
<rect x="660.35" y="192.50" width="1.40" height="2.40" fill="#1f93e2"/>
<rect x="661.65" y="192.50" width="1.16" height="2.40" fill="#1a62e0"/>
<rect x="662.71" y="192.50" width="0.97" height="2.40" fill="#2b3fb0"/>
<rect x="663.58" y="192.50" width="8.68" height="2.40" fill="#2e2486"/>
<rect x="652.14" y="194.70" width="0.40" height="2.40" fill="#ffff06"/>
<rect x="652.54" y="194.70" width="3.86" height="2.40" fill="#f3bd36"/>
<rect x="656.30" y="194.70" width="2.05" height="2.40" fill="#d4d038"/>
<rect x="658.25" y="194.70" width="1.40" height="2.40" fill="#63c487"/>
<rect x="659.56" y="194.70" width="2.87" height="2.40" fill="#2ab8b8"/>
<rect x="662.33" y="194.70" width="2.58" height="2.40" fill="#1f93e2"/>
<rect x="664.80" y="194.70" width="2.10" height="2.40" fill="#1a62e0"/>
<rect x="666.80" y="194.70" width="0.99" height="2.40" fill="#2b3fb0"/>
<rect x="667.69" y="194.70" width="5.45" height="2.40" fill="#2e2486"/>
<rect x="653.03" y="196.90" width="2.50" height="2.40" fill="#ffff06"/>
<rect x="655.53" y="196.90" width="2.55" height="2.40" fill="#ffff06"/>
<rect x="657.98" y="196.90" width="2.63" height="2.40" fill="#ffff06"/>
<rect x="660.51" y="196.90" width="0.91" height="2.40" fill="#63c487"/>
<rect x="661.32" y="196.90" width="2.31" height="2.40" fill="#2ab8b8"/>
<rect x="663.52" y="196.90" width="1.08" height="2.40" fill="#1f93e2"/>
<rect x="664.50" y="196.90" width="1.90" height="2.40" fill="#1a62e0"/>
<rect x="666.30" y="196.90" width="0.97" height="2.40" fill="#2b3fb0"/>
<rect x="667.17" y="196.90" width="6.86" height="2.40" fill="#2e2486"/>
<rect x="653.92" y="199.10" width="0.10" height="2.40" fill="#ffff06"/>
<rect x="653.93" y="199.10" width="1.99" height="2.40" fill="#ffff06"/>
<rect x="655.82" y="199.10" width="2.02" height="2.40" fill="#d4d038"/>
<rect x="657.74" y="199.10" width="1.61" height="2.40" fill="#63c487"/>
<rect x="659.25" y="199.10" width="2.04" height="2.40" fill="#2ab8b8"/>
<rect x="661.19" y="199.10" width="1.10" height="2.40" fill="#1f93e2"/>
<rect x="662.19" y="199.10" width="1.76" height="2.40" fill="#1a62e0"/>
<rect x="663.85" y="199.10" width="1.36" height="2.40" fill="#2b3fb0"/>
<rect x="665.11" y="199.10" width="9.81" height="2.40" fill="#2e2486"/>
<rect x="654.81" y="201.30" width="0.10" height="2.40" fill="#ffff06"/>
<rect x="654.63" y="201.30" width="3.54" height="2.40" fill="#f3bd36"/>
<rect x="658.07" y="201.30" width="1.74" height="2.40" fill="#d4d038"/>
<rect x="659.72" y="201.30" width="1.49" height="2.40" fill="#63c487"/>
<rect x="661.10" y="201.30" width="1.48" height="2.40" fill="#2ab8b8"/>
<rect x="662.48" y="201.30" width="2.58" height="2.40" fill="#1f93e2"/>
<rect x="664.96" y="201.30" width="1.54" height="2.40" fill="#1a62e0"/>
<rect x="666.39" y="201.30" width="1.11" height="2.40" fill="#2b3fb0"/>
<rect x="667.40" y="201.30" width="8.41" height="2.40" fill="#2e2486"/>
<rect x="655.87" y="203.50" width="0.93" height="2.40" fill="#ffff06"/>
<rect x="656.80" y="203.50" width="3.24" height="2.40" fill="#ffff06"/>
<rect x="659.94" y="203.50" width="2.39" height="2.40" fill="#d4d038"/>
<rect x="662.23" y="203.50" width="2.05" height="2.40" fill="#63c487"/>
<rect x="664.17" y="203.50" width="1.79" height="2.40" fill="#2ab8b8"/>
<rect x="665.87" y="203.50" width="1.29" height="2.40" fill="#1f93e2"/>
<rect x="667.06" y="203.50" width="1.85" height="2.40" fill="#1a62e0"/>
<rect x="668.81" y="203.50" width="0.94" height="2.40" fill="#2b3fb0"/>
<rect x="669.66" y="203.50" width="7.21" height="2.40" fill="#2e2486"/>
<rect x="657.49" y="205.70" width="4.99" height="2.40" fill="#ffff06"/>
<rect x="662.48" y="205.70" width="3.57" height="2.40" fill="#ffff06"/>
<rect x="665.95" y="205.70" width="1.32" height="2.40" fill="#ffff06"/>
<rect x="667.17" y="205.70" width="1.90" height="2.40" fill="#63c487"/>
<rect x="668.97" y="205.70" width="1.47" height="2.40" fill="#2ab8b8"/>
<rect x="670.34" y="205.70" width="1.77" height="2.40" fill="#1f93e2"/>
<rect x="672.00" y="205.70" width="2.19" height="2.40" fill="#1a62e0"/>
<rect x="674.09" y="205.70" width="1.37" height="2.40" fill="#2b3fb0"/>
<rect x="675.36" y="205.70" width="3.13" height="2.40" fill="#2e2486"/>
<rect x="659.11" y="207.90" width="1.69" height="2.40" fill="#ffff06"/>
<rect x="660.80" y="207.90" width="3.13" height="2.40" fill="#ffff06"/>
<rect x="663.83" y="207.90" width="2.32" height="2.40" fill="#d4d038"/>
<rect x="666.05" y="207.90" width="1.25" height="2.40" fill="#63c487"/>
<rect x="667.20" y="207.90" width="3.09" height="2.40" fill="#2ab8b8"/>
<rect x="670.19" y="207.90" width="1.04" height="2.40" fill="#1f93e2"/>
<rect x="671.13" y="207.90" width="1.08" height="2.40" fill="#1a62e0"/>
<rect x="672.11" y="207.90" width="0.91" height="2.40" fill="#2b3fb0"/>
<rect x="672.92" y="207.90" width="7.19" height="2.40" fill="#2e2486"/>
<rect x="660.73" y="210.10" width="6.71" height="2.40" fill="#ffff06"/>
<rect x="667.44" y="210.10" width="3.15" height="2.40" fill="#ffff06"/>
<rect x="670.49" y="210.10" width="2.50" height="2.40" fill="#ffff06"/>
<rect x="672.89" y="210.10" width="1.67" height="2.40" fill="#63c487"/>
<rect x="674.46" y="210.10" width="2.79" height="2.40" fill="#2ab8b8"/>
<rect x="677.15" y="210.10" width="1.11" height="2.40" fill="#1f93e2"/>
<rect x="678.16" y="210.10" width="1.58" height="2.40" fill="#1a62e0"/>
<rect x="679.65" y="210.10" width="1.13" height="2.40" fill="#2b3fb0"/>
<rect x="680.67" y="210.10" width="1.05" height="2.40" fill="#2e2486"/>
<ellipse cx="684.39" cy="211.30" rx="1.63" ry="0.8" fill="#1f86e0"/>
<rect x="663.26" y="212.30" width="6.82" height="2.40" fill="#ffff06"/>
<rect x="670.08" y="212.30" width="4.18" height="2.40" fill="#ffff06"/>
<rect x="674.16" y="212.30" width="1.61" height="2.40" fill="#d4d038"/>
<rect x="675.66" y="212.30" width="1.79" height="2.40" fill="#63c487"/>
<rect x="677.35" y="212.30" width="1.41" height="2.40" fill="#2ab8b8"/>
<rect x="678.65" y="212.30" width="1.12" height="2.40" fill="#1f93e2"/>
<rect x="679.68" y="212.30" width="1.17" height="2.40" fill="#1a62e0"/>
<rect x="680.74" y="212.30" width="1.30" height="2.40" fill="#2b3fb0"/>
<rect x="681.94" y="212.30" width="2.32" height="2.40" fill="#2e2486"/>
<ellipse cx="666.51" cy="213.50" rx="2.18" ry="0.8" fill="#e9b83c"/>
<rect x="665.83" y="214.50" width="1.95" height="2.40" fill="#ffff06"/>
<rect x="667.78" y="214.50" width="2.97" height="2.40" fill="#ffff06"/>
<rect x="670.65" y="214.50" width="2.31" height="2.40" fill="#d4d038"/>
<rect x="672.86" y="214.50" width="0.90" height="2.40" fill="#63c487"/>
<rect x="673.65" y="214.50" width="2.62" height="2.40" fill="#2ab8b8"/>
<rect x="676.17" y="214.50" width="1.15" height="2.40" fill="#1f93e2"/>
<rect x="677.21" y="214.50" width="2.64" height="2.40" fill="#1a62e0"/>
<rect x="679.75" y="214.50" width="0.67" height="2.40" fill="#2b3fb0"/>
<rect x="680.32" y="214.50" width="6.51" height="2.40" fill="#2e2486"/>
<ellipse cx="665.75" cy="215.70" rx="1.70" ry="0.8" fill="#e9b83c"/>
<rect x="670.00" y="216.70" width="1.28" height="2.40" fill="#ffff06"/>
<rect x="671.28" y="216.70" width="2.60" height="2.40" fill="#ffff06"/>
<rect x="673.77" y="216.70" width="2.50" height="2.40" fill="#ffff06"/>
<rect x="676.18" y="216.70" width="1.41" height="2.40" fill="#63c487"/>
<rect x="677.48" y="216.70" width="2.27" height="2.40" fill="#2ab8b8"/>
<rect x="679.65" y="216.70" width="2.49" height="2.40" fill="#1f93e2"/>
<rect x="682.04" y="216.70" width="1.64" height="2.40" fill="#1a62e0"/>
<rect x="683.58" y="216.70" width="1.31" height="2.40" fill="#2b3fb0"/>
<rect x="684.79" y="216.70" width="6.21" height="2.40" fill="#2e2486"/>
<rect x="675.50" y="218.90" width="3.08" height="2.40" fill="#ffff06"/>
<rect x="678.58" y="218.90" width="1.45" height="2.40" fill="#ffff06"/>
<rect x="679.94" y="218.90" width="1.22" height="2.40" fill="#ffff06"/>
<rect x="681.06" y="218.90" width="1.89" height="2.40" fill="#63c487"/>
<rect x="682.85" y="218.90" width="1.41" height="2.40" fill="#2ab8b8"/>
<rect x="684.16" y="218.90" width="1.73" height="2.40" fill="#1f93e2"/>
<rect x="685.79" y="218.90" width="2.18" height="2.40" fill="#1a62e0"/>
<rect x="687.87" y="218.90" width="0.99" height="2.40" fill="#2b3fb0"/>
<rect x="688.76" y="218.90" width="7.74" height="2.40" fill="#2e2486"/>
<rect x="684.00" y="221.10" width="3.87" height="2.40" fill="#ffff06"/>
<rect x="687.87" y="221.10" width="3.64" height="2.40" fill="#ffff06"/>
<rect x="691.41" y="221.10" width="1.89" height="2.40" fill="#ffff06"/>
<rect x="693.19" y="221.10" width="1.15" height="2.40" fill="#63c487"/>
<rect x="694.24" y="221.10" width="2.66" height="2.40" fill="#2ab8b8"/>
<rect x="696.80" y="221.10" width="1.79" height="2.40" fill="#1f93e2"/>
<rect x="698.50" y="221.10" width="1.89" height="2.40" fill="#1a62e0"/>
<rect x="700.29" y="221.10" width="1.17" height="2.40" fill="#2b3fb0"/>
<rect x="701.36" y="221.10" width="3.64" height="2.40" fill="#2e2486"/>
<ellipse cx="659.40" cy="208.87" rx="2.63" ry="1.00" fill="#f4a93c" transform="rotate(26 659.40 208.87)"/>
<ellipse cx="653.76" cy="203.98" rx="2.64" ry="1.00" fill="#f4a93c" transform="rotate(20 653.76 203.98)"/>
<ellipse cx="681.32" cy="223.39" rx="1.96" ry="1.00" fill="#efb045" transform="rotate(8 681.32 223.39)"/>
<ellipse cx="655.01" cy="198.56" rx="2.31" ry="1.00" fill="#f4a93c" transform="rotate(14 655.01 198.56)"/>
<ellipse cx="659.47" cy="211.53" rx="2.93" ry="1.00" fill="#f4a93c" transform="rotate(20 659.47 211.53)"/>
<ellipse cx="646.36" cy="186.89" rx="2.06" ry="1.00" fill="#efb045" transform="rotate(8 646.36 186.89)"/>
<ellipse cx="643.40" cy="180.00" rx="2.80" ry="1.05" fill="#f2b040" transform="rotate(10 643.40 180.00)"/>
<ellipse cx="647.90" cy="182.70" rx="2.15" ry="1.05" fill="#f4a93c" transform="rotate(16 647.90 182.70)"/>
<ellipse cx="643.40" cy="184.50" rx="2.31" ry="1.05" fill="#f2b040" transform="rotate(10 643.40 184.50)"/>
<ellipse cx="647.00" cy="189.90" rx="2.29" ry="1.05" fill="#f8c230" transform="rotate(22 647.00 189.90)"/>
<ellipse cx="649.70" cy="197.00" rx="2.02" ry="1.05" fill="#f8c230" transform="rotate(22 649.70 197.00)"/>
<ellipse cx="640.70" cy="209.60" rx="2.40" ry="1.05" fill="#f2b040" transform="rotate(10 640.70 209.60)"/>
<ellipse cx="652.40" cy="208.70" rx="2.30" ry="1.05" fill="#f2b040" transform="rotate(22 652.40 208.70)"/>
<ellipse cx="658.60" cy="208.70" rx="2.46" ry="1.05" fill="#f8c230" transform="rotate(10 658.60 208.70)"/>
<ellipse cx="657.70" cy="214.90" rx="2.89" ry="1.05" fill="#f6b43a" transform="rotate(10 657.70 214.90)"/>
<ellipse cx="663.10" cy="213.10" rx="2.08" ry="1.05" fill="#f6b43a" transform="rotate(16 663.10 213.10)"/>
<ellipse cx="668.50" cy="220.30" rx="2.82" ry="1.05" fill="#f6b43a" transform="rotate(10 668.50 220.30)"/>
<ellipse cx="655.00" cy="223.90" rx="2.68" ry="1.05" fill="#f8c230" transform="rotate(16 655.00 223.90)"/>
<ellipse cx="674.70" cy="224.80" rx="2.37" ry="1.05" fill="#f8c230" transform="rotate(22 674.70 224.80)"/>
</g>
<path d="M697.00,222.70 L753.50,222.70" fill="none" stroke="#2468d8" stroke-width="1.3" opacity="0.9"/>
<path d="M753.50,223.40 L629.00,304.40 L610.40,304.40" fill="none" stroke="#2a6fd6" stroke-width="1.9" opacity="0.9"/>
<path d="M753.50,222.80 L629.00,303.80 L610.40,303.80" fill="none" stroke="#3cc0b0" stroke-width="1.5" stroke-dasharray="1.4 1.5" opacity="0.95"/>
</g>
<path d="M610.40,177.20 L610.40,314.70 L753.50,314.70" fill="none" stroke="#4a4a3a" stroke-width="0.5" opacity="0.7"/>
<text x="608.20" y="189.38" font-size="6.9" text-anchor="end" font-weight="normal" fill="#161616">140</text>
<text x="608.20" y="208.28" font-size="6.9" text-anchor="end" font-weight="normal" fill="#161616">120</text>
<text x="608.20" y="227.18" font-size="6.9" text-anchor="end" font-weight="normal" fill="#161616">100</text>
<text x="608.20" y="246.08" font-size="6.9" text-anchor="end" font-weight="normal" fill="#161616">80</text>
<text x="608.20" y="264.98" font-size="6.9" text-anchor="end" font-weight="normal" fill="#161616">60</text>
<text x="608.20" y="283.88" font-size="6.9" text-anchor="end" font-weight="normal" fill="#161616">40</text>
<text x="608.20" y="302.78" font-size="6.9" text-anchor="end" font-weight="normal" fill="#161616">20</text>
<text x="635.00" y="324.80" font-size="6.9" text-anchor="middle" font-weight="normal" fill="#161616">20</text>
<text x="664.70" y="324.80" font-size="6.9" text-anchor="middle" font-weight="normal" fill="#161616">40</text>
<text x="694.40" y="324.80" font-size="6.9" text-anchor="middle" font-weight="normal" fill="#161616">60</text>
<text x="724.10" y="324.80" font-size="6.9" text-anchor="middle" font-weight="normal" fill="#161616">80</text>
<text x="753.80" y="324.80" font-size="6.9" text-anchor="middle" font-weight="normal" fill="#161616">100</text>
<text x="679.40" y="208.40" font-size="6.9" text-anchor="start" font-weight="normal" fill="#ffffff">k=50</text>
<text x="593.70" y="245.90" font-size="7.6" text-anchor="middle" font-weight="normal" fill="#161616" transform="rotate(-90 593.70 245.90)" stroke="#161616" stroke-width="0.3">M</text>
<text x="682.40" y="334.70" font-size="8" text-anchor="middle" font-weight="normal" fill="#161616">k</text>
</svg>
</body></html>
